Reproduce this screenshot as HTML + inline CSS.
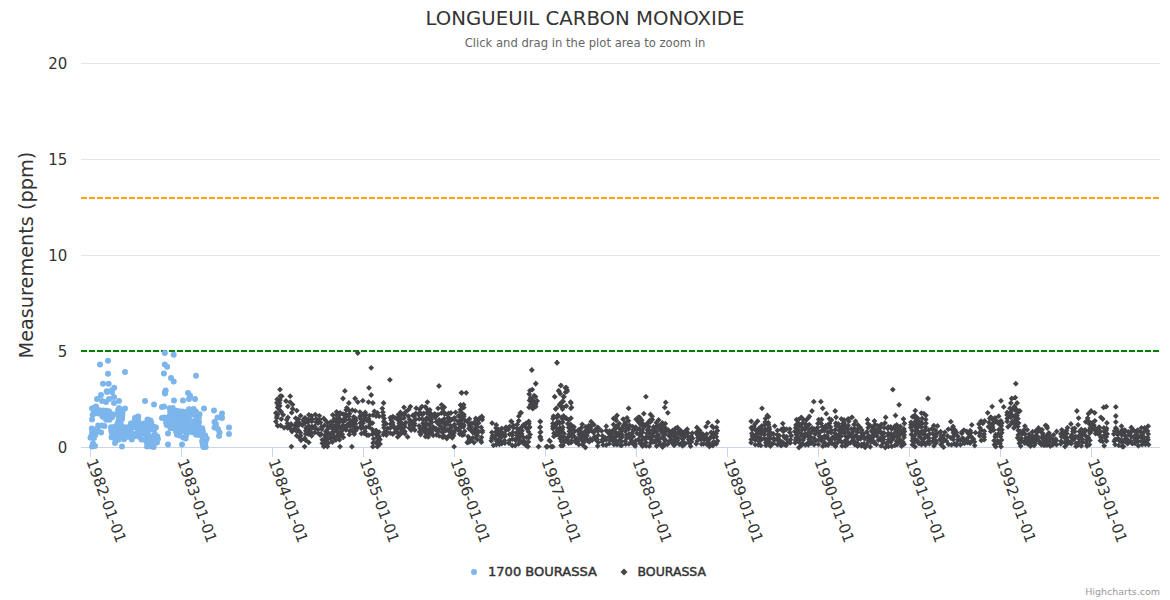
<!DOCTYPE html>
<html><head><meta charset="utf-8"><title>Longueuil Carbon Monoxide</title>
<style>html,body{margin:0;padding:0;background:#fff;width:1170px;height:600px;overflow:hidden}</style>
</head><body>
<div style="position:relative;width:1170px;height:600px">
<svg width="1170" height="600" viewBox="0 0 1170 600" style="position:absolute;left:0;top:0">
<rect x="0" y="0" width="1170" height="600" fill="#ffffff"/>
<path d="M 81 351.5 L 1160 351.5" stroke="#e6e6e6" stroke-width="1" fill="none"/>
<path d="M 81 255.5 L 1160 255.5" stroke="#e6e6e6" stroke-width="1" fill="none"/>
<path d="M 81 159.5 L 1160 159.5" stroke="#e6e6e6" stroke-width="1" fill="none"/>
<path d="M 81 63.5 L 1160 63.5" stroke="#e6e6e6" stroke-width="1" fill="none"/>
<path d="M 81 447.5 L 1160 447.5" stroke="#ccd6eb" stroke-width="1" fill="none"/>
<path d="M 90.5 447 L 90.5 457" stroke="#ccd6eb" stroke-width="1" fill="none"/>
<path d="M 181.5 447 L 181.5 457" stroke="#ccd6eb" stroke-width="1" fill="none"/>
<path d="M 272.5 447 L 272.5 457" stroke="#ccd6eb" stroke-width="1" fill="none"/>
<path d="M 363.5 447 L 363.5 457" stroke="#ccd6eb" stroke-width="1" fill="none"/>
<path d="M 454.5 447 L 454.5 457" stroke="#ccd6eb" stroke-width="1" fill="none"/>
<path d="M 545.5 447 L 545.5 457" stroke="#ccd6eb" stroke-width="1" fill="none"/>
<path d="M 636.5 447 L 636.5 457" stroke="#ccd6eb" stroke-width="1" fill="none"/>
<path d="M 727.5 447 L 727.5 457" stroke="#ccd6eb" stroke-width="1" fill="none"/>
<path d="M 818.5 447 L 818.5 457" stroke="#ccd6eb" stroke-width="1" fill="none"/>
<path d="M 909.5 447 L 909.5 457" stroke="#ccd6eb" stroke-width="1" fill="none"/>
<path d="M 1000.5 447 L 1000.5 457" stroke="#ccd6eb" stroke-width="1" fill="none"/>
<path d="M 1091.5 447 L 1091.5 457" stroke="#ccd6eb" stroke-width="1" fill="none"/>
<path d="M 81 198 L 1160 198" stroke="#FFA500" stroke-width="2" stroke-dasharray="6,2" fill="none"/>
<path d="M 81 351 L 1160 351" stroke="#008000" stroke-width="2" stroke-dasharray="6,2" fill="none"/>
<path d="M89.8 408.2a3 3 0 1 0 6 0a3 3 0 1 0 -6 0zM93.1 407.3a3 3 0 1 0 6 0a3 3 0 1 0 -6 0zM90.5 410.1a3 3 0 1 0 6 0a3 3 0 1 0 -6 0zM92.8 410.3a3 3 0 1 0 6 0a3 3 0 1 0 -6 0zM96.5 410.2a3 3 0 1 0 6 0a3 3 0 1 0 -6 0zM100.5 410.4a3 3 0 1 0 6 0a3 3 0 1 0 -6 0zM103.3 410.7a3 3 0 1 0 6 0a3 3 0 1 0 -6 0zM106.0 411.2a3 3 0 1 0 6 0a3 3 0 1 0 -6 0zM89.7 414.7a3 3 0 1 0 6 0a3 3 0 1 0 -6 0zM92.9 413.3a3 3 0 1 0 6 0a3 3 0 1 0 -6 0zM96.7 413.8a3 3 0 1 0 6 0a3 3 0 1 0 -6 0zM99.2 414.4a3 3 0 1 0 6 0a3 3 0 1 0 -6 0zM103.6 413.7a3 3 0 1 0 6 0a3 3 0 1 0 -6 0zM105.5 413.4a3 3 0 1 0 6 0a3 3 0 1 0 -6 0zM109.9 414.2a3 3 0 1 0 6 0a3 3 0 1 0 -6 0zM99.7 416.7a3 3 0 1 0 6 0a3 3 0 1 0 -6 0zM103.3 417.5a3 3 0 1 0 6 0a3 3 0 1 0 -6 0zM106.6 416.5a3 3 0 1 0 6 0a3 3 0 1 0 -6 0zM109.0 417.2a3 3 0 1 0 6 0a3 3 0 1 0 -6 0zM103.1 419.8a3 3 0 1 0 6 0a3 3 0 1 0 -6 0zM106.5 419.8a3 3 0 1 0 6 0a3 3 0 1 0 -6 0zM95.2 425.4a3 3 0 1 0 6 0a3 3 0 1 0 -6 0zM98.7 425.4a3 3 0 1 0 6 0a3 3 0 1 0 -6 0zM101.4 425.9a3 3 0 1 0 6 0a3 3 0 1 0 -6 0zM88.8 428.4a3 3 0 1 0 6 0a3 3 0 1 0 -6 0zM92.4 429.2a3 3 0 1 0 6 0a3 3 0 1 0 -6 0zM94.2 428.8a3 3 0 1 0 6 0a3 3 0 1 0 -6 0zM89.1 432.3a3 3 0 1 0 6 0a3 3 0 1 0 -6 0zM92.2 431.3a3 3 0 1 0 6 0a3 3 0 1 0 -6 0zM94.9 431.0a3 3 0 1 0 6 0a3 3 0 1 0 -6 0zM98.1 432.5a3 3 0 1 0 6 0a3 3 0 1 0 -6 0zM88.4 435.9a3 3 0 1 0 6 0a3 3 0 1 0 -6 0zM92.3 434.9a3 3 0 1 0 6 0a3 3 0 1 0 -6 0zM87.5 437.7a3 3 0 1 0 6 0a3 3 0 1 0 -6 0zM90.9 437.9a3 3 0 1 0 6 0a3 3 0 1 0 -6 0zM89.4 446.6a3 3 0 1 0 6 0a3 3 0 1 0 -6 0zM132.1 417.7a3 3 0 1 0 6 0a3 3 0 1 0 -6 0zM135.2 416.4a3 3 0 1 0 6 0a3 3 0 1 0 -6 0zM115.5 420.5a3 3 0 1 0 6 0a3 3 0 1 0 -6 0zM117.5 420.9a3 3 0 1 0 6 0a3 3 0 1 0 -6 0zM131.6 420.8a3 3 0 1 0 6 0a3 3 0 1 0 -6 0zM135.1 420.0a3 3 0 1 0 6 0a3 3 0 1 0 -6 0zM144.5 419.6a3 3 0 1 0 6 0a3 3 0 1 0 -6 0zM147.5 420.5a3 3 0 1 0 6 0a3 3 0 1 0 -6 0zM114.4 423.8a3 3 0 1 0 6 0a3 3 0 1 0 -6 0zM117.7 422.9a3 3 0 1 0 6 0a3 3 0 1 0 -6 0zM127.9 423.4a3 3 0 1 0 6 0a3 3 0 1 0 -6 0zM130.5 423.9a3 3 0 1 0 6 0a3 3 0 1 0 -6 0zM135.4 423.1a3 3 0 1 0 6 0a3 3 0 1 0 -6 0zM137.7 423.8a3 3 0 1 0 6 0a3 3 0 1 0 -6 0zM141.1 423.4a3 3 0 1 0 6 0a3 3 0 1 0 -6 0zM145.4 423.3a3 3 0 1 0 6 0a3 3 0 1 0 -6 0zM148.4 422.9a3 3 0 1 0 6 0a3 3 0 1 0 -6 0zM108.0 427.3a3 3 0 1 0 6 0a3 3 0 1 0 -6 0zM111.2 426.9a3 3 0 1 0 6 0a3 3 0 1 0 -6 0zM114.7 426.8a3 3 0 1 0 6 0a3 3 0 1 0 -6 0zM118.1 425.8a3 3 0 1 0 6 0a3 3 0 1 0 -6 0zM121.1 427.3a3 3 0 1 0 6 0a3 3 0 1 0 -6 0zM125.0 426.9a3 3 0 1 0 6 0a3 3 0 1 0 -6 0zM128.6 426.3a3 3 0 1 0 6 0a3 3 0 1 0 -6 0zM131.9 427.0a3 3 0 1 0 6 0a3 3 0 1 0 -6 0zM134.6 427.0a3 3 0 1 0 6 0a3 3 0 1 0 -6 0zM137.4 426.0a3 3 0 1 0 6 0a3 3 0 1 0 -6 0zM141.3 426.1a3 3 0 1 0 6 0a3 3 0 1 0 -6 0zM145.3 426.5a3 3 0 1 0 6 0a3 3 0 1 0 -6 0zM147.3 426.8a3 3 0 1 0 6 0a3 3 0 1 0 -6 0zM151.2 426.8a3 3 0 1 0 6 0a3 3 0 1 0 -6 0zM108.3 430.6a3 3 0 1 0 6 0a3 3 0 1 0 -6 0zM114.4 429.2a3 3 0 1 0 6 0a3 3 0 1 0 -6 0zM118.3 430.1a3 3 0 1 0 6 0a3 3 0 1 0 -6 0zM122.0 429.7a3 3 0 1 0 6 0a3 3 0 1 0 -6 0zM124.3 430.1a3 3 0 1 0 6 0a3 3 0 1 0 -6 0zM127.9 430.0a3 3 0 1 0 6 0a3 3 0 1 0 -6 0zM135.0 429.4a3 3 0 1 0 6 0a3 3 0 1 0 -6 0zM138.4 429.3a3 3 0 1 0 6 0a3 3 0 1 0 -6 0zM142.0 429.2a3 3 0 1 0 6 0a3 3 0 1 0 -6 0zM143.9 429.6a3 3 0 1 0 6 0a3 3 0 1 0 -6 0zM147.9 429.6a3 3 0 1 0 6 0a3 3 0 1 0 -6 0zM151.1 429.8a3 3 0 1 0 6 0a3 3 0 1 0 -6 0zM108.7 432.6a3 3 0 1 0 6 0a3 3 0 1 0 -6 0zM110.7 433.0a3 3 0 1 0 6 0a3 3 0 1 0 -6 0zM115.3 433.8a3 3 0 1 0 6 0a3 3 0 1 0 -6 0zM117.7 432.5a3 3 0 1 0 6 0a3 3 0 1 0 -6 0zM121.3 434.1a3 3 0 1 0 6 0a3 3 0 1 0 -6 0zM124.5 432.5a3 3 0 1 0 6 0a3 3 0 1 0 -6 0zM128.1 433.2a3 3 0 1 0 6 0a3 3 0 1 0 -6 0zM131.9 433.9a3 3 0 1 0 6 0a3 3 0 1 0 -6 0zM134.1 433.1a3 3 0 1 0 6 0a3 3 0 1 0 -6 0zM137.8 433.6a3 3 0 1 0 6 0a3 3 0 1 0 -6 0zM141.2 433.4a3 3 0 1 0 6 0a3 3 0 1 0 -6 0zM144.7 434.0a3 3 0 1 0 6 0a3 3 0 1 0 -6 0zM151.9 434.2a3 3 0 1 0 6 0a3 3 0 1 0 -6 0zM108.5 437.2a3 3 0 1 0 6 0a3 3 0 1 0 -6 0zM110.9 436.2a3 3 0 1 0 6 0a3 3 0 1 0 -6 0zM115.3 436.1a3 3 0 1 0 6 0a3 3 0 1 0 -6 0zM118.5 436.9a3 3 0 1 0 6 0a3 3 0 1 0 -6 0zM124.5 436.8a3 3 0 1 0 6 0a3 3 0 1 0 -6 0zM127.4 436.9a3 3 0 1 0 6 0a3 3 0 1 0 -6 0zM131.9 436.3a3 3 0 1 0 6 0a3 3 0 1 0 -6 0zM135.3 435.9a3 3 0 1 0 6 0a3 3 0 1 0 -6 0zM137.2 437.4a3 3 0 1 0 6 0a3 3 0 1 0 -6 0zM144.4 436.0a3 3 0 1 0 6 0a3 3 0 1 0 -6 0zM147.9 436.4a3 3 0 1 0 6 0a3 3 0 1 0 -6 0zM151.2 436.2a3 3 0 1 0 6 0a3 3 0 1 0 -6 0zM154.3 436.5a3 3 0 1 0 6 0a3 3 0 1 0 -6 0zM112.4 439.6a3 3 0 1 0 6 0a3 3 0 1 0 -6 0zM115.5 439.7a3 3 0 1 0 6 0a3 3 0 1 0 -6 0zM121.1 439.2a3 3 0 1 0 6 0a3 3 0 1 0 -6 0zM128.8 439.4a3 3 0 1 0 6 0a3 3 0 1 0 -6 0zM138.5 439.5a3 3 0 1 0 6 0a3 3 0 1 0 -6 0zM141.3 439.8a3 3 0 1 0 6 0a3 3 0 1 0 -6 0zM145.3 439.4a3 3 0 1 0 6 0a3 3 0 1 0 -6 0zM147.7 439.1a3 3 0 1 0 6 0a3 3 0 1 0 -6 0zM151.9 439.5a3 3 0 1 0 6 0a3 3 0 1 0 -6 0zM154.9 439.1a3 3 0 1 0 6 0a3 3 0 1 0 -6 0zM143.9 442.8a3 3 0 1 0 6 0a3 3 0 1 0 -6 0zM147.0 443.0a3 3 0 1 0 6 0a3 3 0 1 0 -6 0zM151.2 442.3a3 3 0 1 0 6 0a3 3 0 1 0 -6 0zM154.0 442.4a3 3 0 1 0 6 0a3 3 0 1 0 -6 0zM144.1 446.5a3 3 0 1 0 6 0a3 3 0 1 0 -6 0zM148.5 446.4a3 3 0 1 0 6 0a3 3 0 1 0 -6 0zM150.7 447.0a3 3 0 1 0 6 0a3 3 0 1 0 -6 0zM115.1 410.1a3 3 0 1 0 6 0a3 3 0 1 0 -6 0zM119.3 410.0a3 3 0 1 0 6 0a3 3 0 1 0 -6 0zM115.0 412.9a3 3 0 1 0 6 0a3 3 0 1 0 -6 0zM119.5 412.2a3 3 0 1 0 6 0a3 3 0 1 0 -6 0zM115.2 415.8a3 3 0 1 0 6 0a3 3 0 1 0 -6 0zM119.3 415.5a3 3 0 1 0 6 0a3 3 0 1 0 -6 0zM116.1 418.5a3 3 0 1 0 6 0a3 3 0 1 0 -6 0zM119.1 418.7a3 3 0 1 0 6 0a3 3 0 1 0 -6 0zM89.0 446.5a3 3 0 1 0 6 0a3 3 0 1 0 -6 0zM92.0 446.0a3 3 0 1 0 6 0a3 3 0 1 0 -6 0zM90.0 443.5a3 3 0 1 0 6 0a3 3 0 1 0 -6 0zM119.0 446.5a3 3 0 1 0 6 0a3 3 0 1 0 -6 0zM112.0 443.0a3 3 0 1 0 6 0a3 3 0 1 0 -6 0zM94.0 399.0a3 3 0 1 0 6 0a3 3 0 1 0 -6 0zM98.0 395.0a3 3 0 1 0 6 0a3 3 0 1 0 -6 0zM99.0 401.0a3 3 0 1 0 6 0a3 3 0 1 0 -6 0zM103.0 402.0a3 3 0 1 0 6 0a3 3 0 1 0 -6 0zM106.0 399.0a3 3 0 1 0 6 0a3 3 0 1 0 -6 0zM111.0 397.0a3 3 0 1 0 6 0a3 3 0 1 0 -6 0zM111.0 403.0a3 3 0 1 0 6 0a3 3 0 1 0 -6 0zM116.0 401.0a3 3 0 1 0 6 0a3 3 0 1 0 -6 0zM104.0 392.0a3 3 0 1 0 6 0a3 3 0 1 0 -6 0zM109.0 392.0a3 3 0 1 0 6 0a3 3 0 1 0 -6 0zM89.0 419.5a3 3 0 1 0 6 0a3 3 0 1 0 -6 0zM142.0 401.0a3 3 0 1 0 6 0a3 3 0 1 0 -6 0zM151.0 404.5a3 3 0 1 0 6 0a3 3 0 1 0 -6 0zM159.0 407.0a3 3 0 1 0 6 0a3 3 0 1 0 -6 0zM159.0 418.0a3 3 0 1 0 6 0a3 3 0 1 0 -6 0zM153.0 427.5a3 3 0 1 0 6 0a3 3 0 1 0 -6 0zM116.0 408.0a3 3 0 1 0 6 0a3 3 0 1 0 -6 0zM122.0 408.5a3 3 0 1 0 6 0a3 3 0 1 0 -6 0zM89.0 408.5a3 3 0 1 0 6 0a3 3 0 1 0 -6 0zM93.0 406.5a3 3 0 1 0 6 0a3 3 0 1 0 -6 0zM166.6 408.3a3 3 0 1 0 6 0a3 3 0 1 0 -6 0zM169.7 408.1a3 3 0 1 0 6 0a3 3 0 1 0 -6 0zM186.0 409.2a3 3 0 1 0 6 0a3 3 0 1 0 -6 0zM190.6 409.1a3 3 0 1 0 6 0a3 3 0 1 0 -6 0zM167.2 411.8a3 3 0 1 0 6 0a3 3 0 1 0 -6 0zM170.8 411.9a3 3 0 1 0 6 0a3 3 0 1 0 -6 0zM173.3 410.8a3 3 0 1 0 6 0a3 3 0 1 0 -6 0zM175.9 411.2a3 3 0 1 0 6 0a3 3 0 1 0 -6 0zM179.2 411.5a3 3 0 1 0 6 0a3 3 0 1 0 -6 0zM182.4 411.9a3 3 0 1 0 6 0a3 3 0 1 0 -6 0zM186.4 411.9a3 3 0 1 0 6 0a3 3 0 1 0 -6 0zM188.9 411.0a3 3 0 1 0 6 0a3 3 0 1 0 -6 0zM192.8 411.5a3 3 0 1 0 6 0a3 3 0 1 0 -6 0zM167.0 415.3a3 3 0 1 0 6 0a3 3 0 1 0 -6 0zM169.7 415.0a3 3 0 1 0 6 0a3 3 0 1 0 -6 0zM172.6 415.7a3 3 0 1 0 6 0a3 3 0 1 0 -6 0zM177.0 415.8a3 3 0 1 0 6 0a3 3 0 1 0 -6 0zM180.4 414.4a3 3 0 1 0 6 0a3 3 0 1 0 -6 0zM183.5 415.7a3 3 0 1 0 6 0a3 3 0 1 0 -6 0zM187.1 414.5a3 3 0 1 0 6 0a3 3 0 1 0 -6 0zM189.7 414.6a3 3 0 1 0 6 0a3 3 0 1 0 -6 0zM193.5 415.5a3 3 0 1 0 6 0a3 3 0 1 0 -6 0zM196.6 414.3a3 3 0 1 0 6 0a3 3 0 1 0 -6 0zM163.4 417.7a3 3 0 1 0 6 0a3 3 0 1 0 -6 0zM165.9 417.6a3 3 0 1 0 6 0a3 3 0 1 0 -6 0zM169.4 418.8a3 3 0 1 0 6 0a3 3 0 1 0 -6 0zM173.8 417.8a3 3 0 1 0 6 0a3 3 0 1 0 -6 0zM176.3 417.3a3 3 0 1 0 6 0a3 3 0 1 0 -6 0zM179.6 417.3a3 3 0 1 0 6 0a3 3 0 1 0 -6 0zM182.9 417.3a3 3 0 1 0 6 0a3 3 0 1 0 -6 0zM185.9 417.8a3 3 0 1 0 6 0a3 3 0 1 0 -6 0zM193.4 418.3a3 3 0 1 0 6 0a3 3 0 1 0 -6 0zM195.8 417.8a3 3 0 1 0 6 0a3 3 0 1 0 -6 0zM163.1 422.4a3 3 0 1 0 6 0a3 3 0 1 0 -6 0zM165.9 422.1a3 3 0 1 0 6 0a3 3 0 1 0 -6 0zM173.8 421.9a3 3 0 1 0 6 0a3 3 0 1 0 -6 0zM177.1 420.9a3 3 0 1 0 6 0a3 3 0 1 0 -6 0zM179.4 421.3a3 3 0 1 0 6 0a3 3 0 1 0 -6 0zM183.5 421.6a3 3 0 1 0 6 0a3 3 0 1 0 -6 0zM186.6 421.7a3 3 0 1 0 6 0a3 3 0 1 0 -6 0zM190.3 421.6a3 3 0 1 0 6 0a3 3 0 1 0 -6 0zM193.8 421.3a3 3 0 1 0 6 0a3 3 0 1 0 -6 0zM196.0 421.9a3 3 0 1 0 6 0a3 3 0 1 0 -6 0zM163.6 425.1a3 3 0 1 0 6 0a3 3 0 1 0 -6 0zM167.1 424.7a3 3 0 1 0 6 0a3 3 0 1 0 -6 0zM170.4 424.5a3 3 0 1 0 6 0a3 3 0 1 0 -6 0zM173.4 425.4a3 3 0 1 0 6 0a3 3 0 1 0 -6 0zM176.8 425.5a3 3 0 1 0 6 0a3 3 0 1 0 -6 0zM179.1 424.8a3 3 0 1 0 6 0a3 3 0 1 0 -6 0zM183.9 425.7a3 3 0 1 0 6 0a3 3 0 1 0 -6 0zM186.9 425.0a3 3 0 1 0 6 0a3 3 0 1 0 -6 0zM190.5 424.2a3 3 0 1 0 6 0a3 3 0 1 0 -6 0zM195.4 424.8a3 3 0 1 0 6 0a3 3 0 1 0 -6 0zM167.4 427.9a3 3 0 1 0 6 0a3 3 0 1 0 -6 0zM170.4 428.3a3 3 0 1 0 6 0a3 3 0 1 0 -6 0zM172.8 428.1a3 3 0 1 0 6 0a3 3 0 1 0 -6 0zM176.8 428.1a3 3 0 1 0 6 0a3 3 0 1 0 -6 0zM180.0 429.0a3 3 0 1 0 6 0a3 3 0 1 0 -6 0zM182.8 427.2a3 3 0 1 0 6 0a3 3 0 1 0 -6 0zM185.6 428.0a3 3 0 1 0 6 0a3 3 0 1 0 -6 0zM190.1 428.9a3 3 0 1 0 6 0a3 3 0 1 0 -6 0zM193.2 428.2a3 3 0 1 0 6 0a3 3 0 1 0 -6 0zM199.2 428.3a3 3 0 1 0 6 0a3 3 0 1 0 -6 0zM173.0 431.4a3 3 0 1 0 6 0a3 3 0 1 0 -6 0zM175.8 431.8a3 3 0 1 0 6 0a3 3 0 1 0 -6 0zM180.0 430.7a3 3 0 1 0 6 0a3 3 0 1 0 -6 0zM183.8 432.3a3 3 0 1 0 6 0a3 3 0 1 0 -6 0zM185.6 432.1a3 3 0 1 0 6 0a3 3 0 1 0 -6 0zM189.3 432.2a3 3 0 1 0 6 0a3 3 0 1 0 -6 0zM193.7 430.9a3 3 0 1 0 6 0a3 3 0 1 0 -6 0zM196.1 431.0a3 3 0 1 0 6 0a3 3 0 1 0 -6 0zM199.8 431.1a3 3 0 1 0 6 0a3 3 0 1 0 -6 0zM174.0 434.8a3 3 0 1 0 6 0a3 3 0 1 0 -6 0zM176.6 435.6a3 3 0 1 0 6 0a3 3 0 1 0 -6 0zM183.2 435.1a3 3 0 1 0 6 0a3 3 0 1 0 -6 0zM193.2 434.7a3 3 0 1 0 6 0a3 3 0 1 0 -6 0zM196.4 435.1a3 3 0 1 0 6 0a3 3 0 1 0 -6 0zM198.7 434.4a3 3 0 1 0 6 0a3 3 0 1 0 -6 0zM202.1 435.2a3 3 0 1 0 6 0a3 3 0 1 0 -6 0zM180.3 437.5a3 3 0 1 0 6 0a3 3 0 1 0 -6 0zM182.6 438.4a3 3 0 1 0 6 0a3 3 0 1 0 -6 0zM199.8 437.7a3 3 0 1 0 6 0a3 3 0 1 0 -6 0zM203.7 438.5a3 3 0 1 0 6 0a3 3 0 1 0 -6 0zM199.1 441.3a3 3 0 1 0 6 0a3 3 0 1 0 -6 0zM202.6 441.8a3 3 0 1 0 6 0a3 3 0 1 0 -6 0zM199.7 445.1a3 3 0 1 0 6 0a3 3 0 1 0 -6 0zM202.0 444.2a3 3 0 1 0 6 0a3 3 0 1 0 -6 0zM200.4 447.0a3 3 0 1 0 6 0a3 3 0 1 0 -6 0zM202.7 447.0a3 3 0 1 0 6 0a3 3 0 1 0 -6 0zM162.0 393.5a3 3 0 1 0 6 0a3 3 0 1 0 -6 0zM171.0 400.5a3 3 0 1 0 6 0a3 3 0 1 0 -6 0zM180.0 400.5a3 3 0 1 0 6 0a3 3 0 1 0 -6 0zM185.0 393.0a3 3 0 1 0 6 0a3 3 0 1 0 -6 0zM187.0 395.5a3 3 0 1 0 6 0a3 3 0 1 0 -6 0zM186.0 399.0a3 3 0 1 0 6 0a3 3 0 1 0 -6 0zM192.0 399.0a3 3 0 1 0 6 0a3 3 0 1 0 -6 0zM161.0 406.5a3 3 0 1 0 6 0a3 3 0 1 0 -6 0zM201.0 408.5a3 3 0 1 0 6 0a3 3 0 1 0 -6 0zM161.0 417.5a3 3 0 1 0 6 0a3 3 0 1 0 -6 0zM165.0 433.5a3 3 0 1 0 6 0a3 3 0 1 0 -6 0zM165.0 444.5a3 3 0 1 0 6 0a3 3 0 1 0 -6 0zM179.0 444.5a3 3 0 1 0 6 0a3 3 0 1 0 -6 0zM211.0 410.5a3 3 0 1 0 6 0a3 3 0 1 0 -6 0zM219.0 413.5a3 3 0 1 0 6 0a3 3 0 1 0 -6 0zM214.5 417.5a3 3 0 1 0 6 0a3 3 0 1 0 -6 0zM219.0 418.0a3 3 0 1 0 6 0a3 3 0 1 0 -6 0zM211.5 422.0a3 3 0 1 0 6 0a3 3 0 1 0 -6 0zM213.0 424.0a3 3 0 1 0 6 0a3 3 0 1 0 -6 0zM211.5 427.5a3 3 0 1 0 6 0a3 3 0 1 0 -6 0zM215.0 429.0a3 3 0 1 0 6 0a3 3 0 1 0 -6 0zM216.5 432.5a3 3 0 1 0 6 0a3 3 0 1 0 -6 0zM216.0 436.0a3 3 0 1 0 6 0a3 3 0 1 0 -6 0zM226.0 427.5a3 3 0 1 0 6 0a3 3 0 1 0 -6 0zM226.0 434.0a3 3 0 1 0 6 0a3 3 0 1 0 -6 0zM97.0 364.5a3 3 0 1 0 6 0a3 3 0 1 0 -6 0zM105.0 360.7a3 3 0 1 0 6 0a3 3 0 1 0 -6 0zM105.0 373.7a3 3 0 1 0 6 0a3 3 0 1 0 -6 0zM122.0 372.0a3 3 0 1 0 6 0a3 3 0 1 0 -6 0zM100.0 383.7a3 3 0 1 0 6 0a3 3 0 1 0 -6 0zM105.7 383.7a3 3 0 1 0 6 0a3 3 0 1 0 -6 0zM111.2 387.8a3 3 0 1 0 6 0a3 3 0 1 0 -6 0zM103.7 391.2a3 3 0 1 0 6 0a3 3 0 1 0 -6 0zM108.7 390.3a3 3 0 1 0 6 0a3 3 0 1 0 -6 0zM161.8 353.0a3 3 0 1 0 6 0a3 3 0 1 0 -6 0zM170.7 354.8a3 3 0 1 0 6 0a3 3 0 1 0 -6 0zM161.8 364.6a3 3 0 1 0 6 0a3 3 0 1 0 -6 0zM164.1 366.7a3 3 0 1 0 6 0a3 3 0 1 0 -6 0zM160.9 373.5a3 3 0 1 0 6 0a3 3 0 1 0 -6 0zM168.0 378.0a3 3 0 1 0 6 0a3 3 0 1 0 -6 0zM170.7 381.5a3 3 0 1 0 6 0a3 3 0 1 0 -6 0zM193.0 375.7a3 3 0 1 0 6 0a3 3 0 1 0 -6 0zM162.7 390.5a3 3 0 1 0 6 0a3 3 0 1 0 -6 0zM161.8 392.2a3 3 0 1 0 6 0a3 3 0 1 0 -6 0z" fill="#7cb5ec"/>
<path d="M346.8 404.9l2.9 2.9l-2.9 2.9l-2.9 -2.9zM346.2 407.0l2.9 2.9l-2.9 2.9l-2.9 -2.9zM345.4 411.2l2.9 2.9l-2.9 2.9l-2.9 -2.9zM345.5 414.5l2.9 2.9l-2.9 2.9l-2.9 -2.9zM345.6 417.3l2.9 2.9l-2.9 2.9l-2.9 -2.9zM347.6 421.5l2.9 2.9l-2.9 2.9l-2.9 -2.9zM347.6 423.5l2.9 2.9l-2.9 2.9l-2.9 -2.9zM346.0 427.0l2.9 2.9l-2.9 2.9l-2.9 -2.9zM349.0 407.5l2.9 2.9l-2.9 2.9l-2.9 -2.9zM349.5 410.8l2.9 2.9l-2.9 2.9l-2.9 -2.9zM348.7 413.2l2.9 2.9l-2.9 2.9l-2.9 -2.9zM349.6 416.8l2.9 2.9l-2.9 2.9l-2.9 -2.9zM349.7 420.1l2.9 2.9l-2.9 2.9l-2.9 -2.9zM350.3 423.2l2.9 2.9l-2.9 2.9l-2.9 -2.9zM349.8 428.0l2.9 2.9l-2.9 2.9l-2.9 -2.9zM349.3 431.6l2.9 2.9l-2.9 2.9l-2.9 -2.9zM352.3 407.3l2.9 2.9l-2.9 2.9l-2.9 -2.9zM353.7 414.1l2.9 2.9l-2.9 2.9l-2.9 -2.9zM352.6 417.7l2.9 2.9l-2.9 2.9l-2.9 -2.9zM353.3 420.4l2.9 2.9l-2.9 2.9l-2.9 -2.9zM354.2 423.8l2.9 2.9l-2.9 2.9l-2.9 -2.9zM352.0 427.6l2.9 2.9l-2.9 2.9l-2.9 -2.9zM354.3 431.2l2.9 2.9l-2.9 2.9l-2.9 -2.9zM355.2 407.9l2.9 2.9l-2.9 2.9l-2.9 -2.9zM355.3 415.2l2.9 2.9l-2.9 2.9l-2.9 -2.9zM355.8 417.6l2.9 2.9l-2.9 2.9l-2.9 -2.9zM355.4 421.0l2.9 2.9l-2.9 2.9l-2.9 -2.9zM357.3 425.2l2.9 2.9l-2.9 2.9l-2.9 -2.9zM355.9 427.5l2.9 2.9l-2.9 2.9l-2.9 -2.9zM359.9 409.2l2.9 2.9l-2.9 2.9l-2.9 -2.9zM360.1 413.3l2.9 2.9l-2.9 2.9l-2.9 -2.9zM360.2 415.4l2.9 2.9l-2.9 2.9l-2.9 -2.9zM360.4 420.1l2.9 2.9l-2.9 2.9l-2.9 -2.9zM361.2 423.2l2.9 2.9l-2.9 2.9l-2.9 -2.9zM361.2 425.4l2.9 2.9l-2.9 2.9l-2.9 -2.9zM361.4 430.7l2.9 2.9l-2.9 2.9l-2.9 -2.9zM363.1 411.9l2.9 2.9l-2.9 2.9l-2.9 -2.9zM363.4 417.4l2.9 2.9l-2.9 2.9l-2.9 -2.9zM363.0 420.3l2.9 2.9l-2.9 2.9l-2.9 -2.9zM363.1 424.4l2.9 2.9l-2.9 2.9l-2.9 -2.9zM364.3 430.5l2.9 2.9l-2.9 2.9l-2.9 -2.9zM365.2 409.6l2.9 2.9l-2.9 2.9l-2.9 -2.9zM366.0 412.0l2.9 2.9l-2.9 2.9l-2.9 -2.9zM365.2 414.9l2.9 2.9l-2.9 2.9l-2.9 -2.9zM366.9 417.8l2.9 2.9l-2.9 2.9l-2.9 -2.9zM366.2 424.4l2.9 2.9l-2.9 2.9l-2.9 -2.9zM365.0 428.6l2.9 2.9l-2.9 2.9l-2.9 -2.9zM367.0 432.3l2.9 2.9l-2.9 2.9l-2.9 -2.9zM369.5 412.7l2.9 2.9l-2.9 2.9l-2.9 -2.9zM368.7 416.1l2.9 2.9l-2.9 2.9l-2.9 -2.9zM370.3 419.4l2.9 2.9l-2.9 2.9l-2.9 -2.9zM370.0 421.3l2.9 2.9l-2.9 2.9l-2.9 -2.9zM369.1 424.1l2.9 2.9l-2.9 2.9l-2.9 -2.9zM368.8 432.3l2.9 2.9l-2.9 2.9l-2.9 -2.9zM373.0 412.3l2.9 2.9l-2.9 2.9l-2.9 -2.9zM374.4 408.4l2.9 2.9l-2.9 2.9l-2.9 -2.9zM376.1 413.2l2.9 2.9l-2.9 2.9l-2.9 -2.9zM377.4 409.9l2.9 2.9l-2.9 2.9l-2.9 -2.9zM379.1 413.4l2.9 2.9l-2.9 2.9l-2.9 -2.9zM382.3 405.5l2.9 2.9l-2.9 2.9l-2.9 -2.9zM382.9 409.3l2.9 2.9l-2.9 2.9l-2.9 -2.9zM382.8 413.4l2.9 2.9l-2.9 2.9l-2.9 -2.9zM372.5 420.2l2.9 2.9l-2.9 2.9l-2.9 -2.9zM372.4 426.7l2.9 2.9l-2.9 2.9l-2.9 -2.9zM373.6 428.8l2.9 2.9l-2.9 2.9l-2.9 -2.9zM372.4 431.3l2.9 2.9l-2.9 2.9l-2.9 -2.9zM373.6 435.9l2.9 2.9l-2.9 2.9l-2.9 -2.9zM373.1 440.0l2.9 2.9l-2.9 2.9l-2.9 -2.9zM376.1 427.6l2.9 2.9l-2.9 2.9l-2.9 -2.9zM376.0 431.4l2.9 2.9l-2.9 2.9l-2.9 -2.9zM377.5 434.5l2.9 2.9l-2.9 2.9l-2.9 -2.9zM376.7 439.1l2.9 2.9l-2.9 2.9l-2.9 -2.9zM377.5 441.5l2.9 2.9l-2.9 2.9l-2.9 -2.9zM379.1 429.3l2.9 2.9l-2.9 2.9l-2.9 -2.9zM379.1 433.7l2.9 2.9l-2.9 2.9l-2.9 -2.9zM380.0 436.7l2.9 2.9l-2.9 2.9l-2.9 -2.9zM380.0 441.1l2.9 2.9l-2.9 2.9l-2.9 -2.9zM383.4 412.4l2.9 2.9l-2.9 2.9l-2.9 -2.9zM384.1 415.7l2.9 2.9l-2.9 2.9l-2.9 -2.9zM383.8 418.6l2.9 2.9l-2.9 2.9l-2.9 -2.9zM384.0 422.1l2.9 2.9l-2.9 2.9l-2.9 -2.9zM384.0 424.9l2.9 2.9l-2.9 2.9l-2.9 -2.9zM384.4 429.2l2.9 2.9l-2.9 2.9l-2.9 -2.9zM383.4 431.7l2.9 2.9l-2.9 2.9l-2.9 -2.9zM386.2 420.8l2.9 2.9l-2.9 2.9l-2.9 -2.9zM387.7 425.4l2.9 2.9l-2.9 2.9l-2.9 -2.9zM386.4 428.5l2.9 2.9l-2.9 2.9l-2.9 -2.9zM386.4 432.2l2.9 2.9l-2.9 2.9l-2.9 -2.9zM390.3 414.8l2.9 2.9l-2.9 2.9l-2.9 -2.9zM391.3 417.4l2.9 2.9l-2.9 2.9l-2.9 -2.9zM390.6 421.1l2.9 2.9l-2.9 2.9l-2.9 -2.9zM390.1 425.3l2.9 2.9l-2.9 2.9l-2.9 -2.9zM390.4 430.2l2.9 2.9l-2.9 2.9l-2.9 -2.9zM392.8 413.7l2.9 2.9l-2.9 2.9l-2.9 -2.9zM395.0 414.9l2.9 2.9l-2.9 2.9l-2.9 -2.9zM392.7 419.8l2.9 2.9l-2.9 2.9l-2.9 -2.9zM393.0 422.3l2.9 2.9l-2.9 2.9l-2.9 -2.9zM394.6 425.2l2.9 2.9l-2.9 2.9l-2.9 -2.9zM394.9 429.2l2.9 2.9l-2.9 2.9l-2.9 -2.9zM392.9 431.3l2.9 2.9l-2.9 2.9l-2.9 -2.9zM398.5 411.6l2.9 2.9l-2.9 2.9l-2.9 -2.9zM399.1 413.2l2.9 2.9l-2.9 2.9l-2.9 -2.9zM398.1 417.1l2.9 2.9l-2.9 2.9l-2.9 -2.9zM399.2 420.3l2.9 2.9l-2.9 2.9l-2.9 -2.9zM398.3 423.5l2.9 2.9l-2.9 2.9l-2.9 -2.9zM397.4 426.3l2.9 2.9l-2.9 2.9l-2.9 -2.9zM397.8 430.2l2.9 2.9l-2.9 2.9l-2.9 -2.9zM397.7 434.0l2.9 2.9l-2.9 2.9l-2.9 -2.9zM400.4 409.6l2.9 2.9l-2.9 2.9l-2.9 -2.9zM400.8 412.3l2.9 2.9l-2.9 2.9l-2.9 -2.9zM400.6 416.4l2.9 2.9l-2.9 2.9l-2.9 -2.9zM401.5 419.8l2.9 2.9l-2.9 2.9l-2.9 -2.9zM401.5 422.7l2.9 2.9l-2.9 2.9l-2.9 -2.9zM401.1 426.4l2.9 2.9l-2.9 2.9l-2.9 -2.9zM401.9 428.6l2.9 2.9l-2.9 2.9l-2.9 -2.9zM400.5 431.3l2.9 2.9l-2.9 2.9l-2.9 -2.9zM404.0 404.4l2.9 2.9l-2.9 2.9l-2.9 -2.9zM405.7 409.1l2.9 2.9l-2.9 2.9l-2.9 -2.9zM404.2 411.5l2.9 2.9l-2.9 2.9l-2.9 -2.9zM404.0 415.2l2.9 2.9l-2.9 2.9l-2.9 -2.9zM405.9 419.7l2.9 2.9l-2.9 2.9l-2.9 -2.9zM404.2 423.0l2.9 2.9l-2.9 2.9l-2.9 -2.9zM404.5 424.0l2.9 2.9l-2.9 2.9l-2.9 -2.9zM404.8 428.5l2.9 2.9l-2.9 2.9l-2.9 -2.9zM404.8 430.6l2.9 2.9l-2.9 2.9l-2.9 -2.9zM408.7 406.5l2.9 2.9l-2.9 2.9l-2.9 -2.9zM408.3 413.2l2.9 2.9l-2.9 2.9l-2.9 -2.9zM409.5 416.6l2.9 2.9l-2.9 2.9l-2.9 -2.9zM409.8 419.3l2.9 2.9l-2.9 2.9l-2.9 -2.9zM410.1 422.0l2.9 2.9l-2.9 2.9l-2.9 -2.9zM409.3 425.1l2.9 2.9l-2.9 2.9l-2.9 -2.9zM412.8 412.5l2.9 2.9l-2.9 2.9l-2.9 -2.9zM412.2 419.1l2.9 2.9l-2.9 2.9l-2.9 -2.9zM413.0 421.8l2.9 2.9l-2.9 2.9l-2.9 -2.9zM412.7 425.4l2.9 2.9l-2.9 2.9l-2.9 -2.9zM411.1 427.3l2.9 2.9l-2.9 2.9l-2.9 -2.9zM416.2 405.3l2.9 2.9l-2.9 2.9l-2.9 -2.9zM415.8 410.4l2.9 2.9l-2.9 2.9l-2.9 -2.9zM414.3 414.0l2.9 2.9l-2.9 2.9l-2.9 -2.9zM415.5 416.7l2.9 2.9l-2.9 2.9l-2.9 -2.9zM414.5 420.5l2.9 2.9l-2.9 2.9l-2.9 -2.9zM414.5 422.6l2.9 2.9l-2.9 2.9l-2.9 -2.9zM414.8 427.1l2.9 2.9l-2.9 2.9l-2.9 -2.9zM419.6 406.4l2.9 2.9l-2.9 2.9l-2.9 -2.9zM419.9 409.6l2.9 2.9l-2.9 2.9l-2.9 -2.9zM418.8 412.0l2.9 2.9l-2.9 2.9l-2.9 -2.9zM419.2 416.0l2.9 2.9l-2.9 2.9l-2.9 -2.9zM419.1 422.9l2.9 2.9l-2.9 2.9l-2.9 -2.9zM420.1 425.3l2.9 2.9l-2.9 2.9l-2.9 -2.9zM419.5 429.0l2.9 2.9l-2.9 2.9l-2.9 -2.9zM420.6 431.7l2.9 2.9l-2.9 2.9l-2.9 -2.9zM423.7 410.4l2.9 2.9l-2.9 2.9l-2.9 -2.9zM422.4 411.9l2.9 2.9l-2.9 2.9l-2.9 -2.9zM422.2 416.1l2.9 2.9l-2.9 2.9l-2.9 -2.9zM423.0 420.3l2.9 2.9l-2.9 2.9l-2.9 -2.9zM423.7 422.5l2.9 2.9l-2.9 2.9l-2.9 -2.9zM423.4 425.1l2.9 2.9l-2.9 2.9l-2.9 -2.9zM422.9 427.9l2.9 2.9l-2.9 2.9l-2.9 -2.9zM425.4 403.9l2.9 2.9l-2.9 2.9l-2.9 -2.9zM427.1 406.3l2.9 2.9l-2.9 2.9l-2.9 -2.9zM427.0 409.9l2.9 2.9l-2.9 2.9l-2.9 -2.9zM426.7 415.1l2.9 2.9l-2.9 2.9l-2.9 -2.9zM425.9 417.2l2.9 2.9l-2.9 2.9l-2.9 -2.9zM426.4 420.4l2.9 2.9l-2.9 2.9l-2.9 -2.9zM425.7 422.9l2.9 2.9l-2.9 2.9l-2.9 -2.9zM427.0 426.8l2.9 2.9l-2.9 2.9l-2.9 -2.9zM425.6 430.1l2.9 2.9l-2.9 2.9l-2.9 -2.9zM425.5 433.6l2.9 2.9l-2.9 2.9l-2.9 -2.9zM429.8 406.9l2.9 2.9l-2.9 2.9l-2.9 -2.9zM429.7 409.7l2.9 2.9l-2.9 2.9l-2.9 -2.9zM430.1 412.4l2.9 2.9l-2.9 2.9l-2.9 -2.9zM429.9 415.3l2.9 2.9l-2.9 2.9l-2.9 -2.9zM430.6 418.2l2.9 2.9l-2.9 2.9l-2.9 -2.9zM429.2 421.9l2.9 2.9l-2.9 2.9l-2.9 -2.9zM430.7 425.1l2.9 2.9l-2.9 2.9l-2.9 -2.9zM429.1 429.1l2.9 2.9l-2.9 2.9l-2.9 -2.9zM428.7 431.5l2.9 2.9l-2.9 2.9l-2.9 -2.9zM431.5 411.3l2.9 2.9l-2.9 2.9l-2.9 -2.9zM432.0 412.8l2.9 2.9l-2.9 2.9l-2.9 -2.9zM431.1 416.6l2.9 2.9l-2.9 2.9l-2.9 -2.9zM431.5 419.7l2.9 2.9l-2.9 2.9l-2.9 -2.9zM433.1 424.1l2.9 2.9l-2.9 2.9l-2.9 -2.9zM431.9 426.9l2.9 2.9l-2.9 2.9l-2.9 -2.9zM431.7 429.1l2.9 2.9l-2.9 2.9l-2.9 -2.9zM433.2 432.5l2.9 2.9l-2.9 2.9l-2.9 -2.9zM434.7 410.9l2.9 2.9l-2.9 2.9l-2.9 -2.9zM435.2 414.6l2.9 2.9l-2.9 2.9l-2.9 -2.9zM436.3 418.9l2.9 2.9l-2.9 2.9l-2.9 -2.9zM435.9 425.6l2.9 2.9l-2.9 2.9l-2.9 -2.9zM435.6 426.7l2.9 2.9l-2.9 2.9l-2.9 -2.9zM436.4 432.0l2.9 2.9l-2.9 2.9l-2.9 -2.9zM437.8 411.8l2.9 2.9l-2.9 2.9l-2.9 -2.9zM439.2 417.0l2.9 2.9l-2.9 2.9l-2.9 -2.9zM439.1 419.9l2.9 2.9l-2.9 2.9l-2.9 -2.9zM438.8 421.5l2.9 2.9l-2.9 2.9l-2.9 -2.9zM438.1 426.9l2.9 2.9l-2.9 2.9l-2.9 -2.9zM438.3 428.3l2.9 2.9l-2.9 2.9l-2.9 -2.9zM439.1 433.0l2.9 2.9l-2.9 2.9l-2.9 -2.9zM442.1 405.3l2.9 2.9l-2.9 2.9l-2.9 -2.9zM441.4 410.2l2.9 2.9l-2.9 2.9l-2.9 -2.9zM441.9 417.7l2.9 2.9l-2.9 2.9l-2.9 -2.9zM442.9 419.8l2.9 2.9l-2.9 2.9l-2.9 -2.9zM441.4 424.3l2.9 2.9l-2.9 2.9l-2.9 -2.9zM441.6 425.4l2.9 2.9l-2.9 2.9l-2.9 -2.9zM442.4 429.6l2.9 2.9l-2.9 2.9l-2.9 -2.9zM442.4 434.1l2.9 2.9l-2.9 2.9l-2.9 -2.9zM444.3 404.4l2.9 2.9l-2.9 2.9l-2.9 -2.9zM443.9 409.3l2.9 2.9l-2.9 2.9l-2.9 -2.9zM444.6 411.2l2.9 2.9l-2.9 2.9l-2.9 -2.9zM444.2 416.0l2.9 2.9l-2.9 2.9l-2.9 -2.9zM443.9 419.2l2.9 2.9l-2.9 2.9l-2.9 -2.9zM445.7 421.8l2.9 2.9l-2.9 2.9l-2.9 -2.9zM443.9 424.9l2.9 2.9l-2.9 2.9l-2.9 -2.9zM445.7 427.6l2.9 2.9l-2.9 2.9l-2.9 -2.9zM443.9 432.9l2.9 2.9l-2.9 2.9l-2.9 -2.9zM443.5 434.0l2.9 2.9l-2.9 2.9l-2.9 -2.9zM448.5 410.4l2.9 2.9l-2.9 2.9l-2.9 -2.9zM447.5 411.8l2.9 2.9l-2.9 2.9l-2.9 -2.9zM448.5 414.7l2.9 2.9l-2.9 2.9l-2.9 -2.9zM447.6 418.8l2.9 2.9l-2.9 2.9l-2.9 -2.9zM447.1 421.2l2.9 2.9l-2.9 2.9l-2.9 -2.9zM447.6 426.8l2.9 2.9l-2.9 2.9l-2.9 -2.9zM449.0 428.3l2.9 2.9l-2.9 2.9l-2.9 -2.9zM448.7 433.1l2.9 2.9l-2.9 2.9l-2.9 -2.9zM446.8 435.6l2.9 2.9l-2.9 2.9l-2.9 -2.9zM450.9 410.1l2.9 2.9l-2.9 2.9l-2.9 -2.9zM452.0 416.4l2.9 2.9l-2.9 2.9l-2.9 -2.9zM450.1 418.0l2.9 2.9l-2.9 2.9l-2.9 -2.9zM450.6 422.9l2.9 2.9l-2.9 2.9l-2.9 -2.9zM450.8 425.1l2.9 2.9l-2.9 2.9l-2.9 -2.9zM451.5 428.4l2.9 2.9l-2.9 2.9l-2.9 -2.9zM450.8 431.7l2.9 2.9l-2.9 2.9l-2.9 -2.9zM455.6 409.4l2.9 2.9l-2.9 2.9l-2.9 -2.9zM454.5 414.9l2.9 2.9l-2.9 2.9l-2.9 -2.9zM454.2 416.5l2.9 2.9l-2.9 2.9l-2.9 -2.9zM454.5 421.5l2.9 2.9l-2.9 2.9l-2.9 -2.9zM455.2 424.3l2.9 2.9l-2.9 2.9l-2.9 -2.9zM455.2 427.3l2.9 2.9l-2.9 2.9l-2.9 -2.9zM454.1 430.0l2.9 2.9l-2.9 2.9l-2.9 -2.9zM453.5 432.9l2.9 2.9l-2.9 2.9l-2.9 -2.9zM458.5 412.9l2.9 2.9l-2.9 2.9l-2.9 -2.9zM460.1 414.5l2.9 2.9l-2.9 2.9l-2.9 -2.9zM457.9 418.4l2.9 2.9l-2.9 2.9l-2.9 -2.9zM458.8 421.0l2.9 2.9l-2.9 2.9l-2.9 -2.9zM459.2 425.4l2.9 2.9l-2.9 2.9l-2.9 -2.9zM459.7 428.7l2.9 2.9l-2.9 2.9l-2.9 -2.9zM459.7 431.1l2.9 2.9l-2.9 2.9l-2.9 -2.9zM357.8 350.1l2.9 2.9l-2.9 2.9l-2.9 -2.9zM371.2 364.9l2.9 2.9l-2.9 2.9l-2.9 -2.9zM389.9 376.9l2.9 2.9l-2.9 2.9l-2.9 -2.9zM439.0 383.1l2.9 2.9l-2.9 2.9l-2.9 -2.9zM369.0 384.9l2.9 2.9l-2.9 2.9l-2.9 -2.9zM371.2 392.1l2.9 2.9l-2.9 2.9l-2.9 -2.9zM344.9 388.0l2.9 2.9l-2.9 2.9l-2.9 -2.9zM343.0 395.6l2.9 2.9l-2.9 2.9l-2.9 -2.9zM348.9 400.1l2.9 2.9l-2.9 2.9l-2.9 -2.9zM355.1 395.6l2.9 2.9l-2.9 2.9l-2.9 -2.9zM357.8 399.2l2.9 2.9l-2.9 2.9l-2.9 -2.9zM362.8 397.8l2.9 2.9l-2.9 2.9l-2.9 -2.9zM368.5 399.2l2.9 2.9l-2.9 2.9l-2.9 -2.9zM372.9 400.1l2.9 2.9l-2.9 2.9l-2.9 -2.9zM383.6 400.1l2.9 2.9l-2.9 2.9l-2.9 -2.9zM461.3 389.9l2.9 2.9l-2.9 2.9l-2.9 -2.9zM441.6 401.9l2.9 2.9l-2.9 2.9l-2.9 -2.9zM438.1 405.4l2.9 2.9l-2.9 2.9l-2.9 -2.9zM427.4 399.2l2.9 2.9l-2.9 2.9l-2.9 -2.9zM410.4 403.7l2.9 2.9l-2.9 2.9l-2.9 -2.9zM422.0 403.7l2.9 2.9l-2.9 2.9l-2.9 -2.9zM351.9 443.8l2.9 2.9l-2.9 2.9l-2.9 -2.9zM372.9 443.8l2.9 2.9l-2.9 2.9l-2.9 -2.9zM377.4 443.8l2.9 2.9l-2.9 2.9l-2.9 -2.9zM454.1 443.8l2.9 2.9l-2.9 2.9l-2.9 -2.9zM428.2 434.0l2.9 2.9l-2.9 2.9l-2.9 -2.9zM407.7 434.0l2.9 2.9l-2.9 2.9l-2.9 -2.9zM452.3 434.9l2.9 2.9l-2.9 2.9l-2.9 -2.9zM460.5 402.1l2.9 2.9l-2.9 2.9l-2.9 -2.9zM460.4 406.9l2.9 2.9l-2.9 2.9l-2.9 -2.9zM460.8 409.1l2.9 2.9l-2.9 2.9l-2.9 -2.9zM461.2 412.0l2.9 2.9l-2.9 2.9l-2.9 -2.9zM461.6 417.1l2.9 2.9l-2.9 2.9l-2.9 -2.9zM461.1 420.0l2.9 2.9l-2.9 2.9l-2.9 -2.9zM462.2 421.4l2.9 2.9l-2.9 2.9l-2.9 -2.9zM460.3 425.1l2.9 2.9l-2.9 2.9l-2.9 -2.9zM461.4 430.1l2.9 2.9l-2.9 2.9l-2.9 -2.9zM462.1 432.3l2.9 2.9l-2.9 2.9l-2.9 -2.9zM463.6 401.8l2.9 2.9l-2.9 2.9l-2.9 -2.9zM463.8 404.6l2.9 2.9l-2.9 2.9l-2.9 -2.9zM463.9 411.8l2.9 2.9l-2.9 2.9l-2.9 -2.9zM463.8 413.6l2.9 2.9l-2.9 2.9l-2.9 -2.9zM464.9 417.4l2.9 2.9l-2.9 2.9l-2.9 -2.9zM463.8 422.1l2.9 2.9l-2.9 2.9l-2.9 -2.9zM463.5 423.8l2.9 2.9l-2.9 2.9l-2.9 -2.9zM464.6 428.3l2.9 2.9l-2.9 2.9l-2.9 -2.9zM463.7 431.8l2.9 2.9l-2.9 2.9l-2.9 -2.9zM469.4 416.0l2.9 2.9l-2.9 2.9l-2.9 -2.9zM468.0 419.5l2.9 2.9l-2.9 2.9l-2.9 -2.9zM469.5 422.7l2.9 2.9l-2.9 2.9l-2.9 -2.9zM468.9 425.6l2.9 2.9l-2.9 2.9l-2.9 -2.9zM468.2 433.7l2.9 2.9l-2.9 2.9l-2.9 -2.9zM469.3 436.1l2.9 2.9l-2.9 2.9l-2.9 -2.9zM467.2 439.6l2.9 2.9l-2.9 2.9l-2.9 -2.9zM471.3 420.6l2.9 2.9l-2.9 2.9l-2.9 -2.9zM471.1 423.9l2.9 2.9l-2.9 2.9l-2.9 -2.9zM470.7 427.1l2.9 2.9l-2.9 2.9l-2.9 -2.9zM472.8 429.7l2.9 2.9l-2.9 2.9l-2.9 -2.9zM472.7 434.9l2.9 2.9l-2.9 2.9l-2.9 -2.9zM470.6 438.1l2.9 2.9l-2.9 2.9l-2.9 -2.9zM475.7 415.5l2.9 2.9l-2.9 2.9l-2.9 -2.9zM474.3 419.4l2.9 2.9l-2.9 2.9l-2.9 -2.9zM475.7 422.2l2.9 2.9l-2.9 2.9l-2.9 -2.9zM474.7 426.3l2.9 2.9l-2.9 2.9l-2.9 -2.9zM474.0 428.9l2.9 2.9l-2.9 2.9l-2.9 -2.9zM475.9 431.7l2.9 2.9l-2.9 2.9l-2.9 -2.9zM475.6 435.0l2.9 2.9l-2.9 2.9l-2.9 -2.9zM474.0 439.7l2.9 2.9l-2.9 2.9l-2.9 -2.9zM478.0 417.1l2.9 2.9l-2.9 2.9l-2.9 -2.9zM478.6 420.1l2.9 2.9l-2.9 2.9l-2.9 -2.9zM477.1 423.8l2.9 2.9l-2.9 2.9l-2.9 -2.9zM477.6 427.5l2.9 2.9l-2.9 2.9l-2.9 -2.9zM478.1 429.4l2.9 2.9l-2.9 2.9l-2.9 -2.9zM477.3 432.5l2.9 2.9l-2.9 2.9l-2.9 -2.9zM477.3 436.6l2.9 2.9l-2.9 2.9l-2.9 -2.9zM481.8 413.5l2.9 2.9l-2.9 2.9l-2.9 -2.9zM482.2 416.8l2.9 2.9l-2.9 2.9l-2.9 -2.9zM481.2 424.5l2.9 2.9l-2.9 2.9l-2.9 -2.9zM482.4 427.9l2.9 2.9l-2.9 2.9l-2.9 -2.9zM482.3 429.3l2.9 2.9l-2.9 2.9l-2.9 -2.9zM481.5 434.4l2.9 2.9l-2.9 2.9l-2.9 -2.9zM480.7 437.3l2.9 2.9l-2.9 2.9l-2.9 -2.9zM492.1 420.2l2.9 2.9l-2.9 2.9l-2.9 -2.9zM491.9 429.5l2.9 2.9l-2.9 2.9l-2.9 -2.9zM492.4 433.0l2.9 2.9l-2.9 2.9l-2.9 -2.9zM491.9 435.3l2.9 2.9l-2.9 2.9l-2.9 -2.9zM491.3 437.9l2.9 2.9l-2.9 2.9l-2.9 -2.9zM493.5 442.4l2.9 2.9l-2.9 2.9l-2.9 -2.9zM496.3 422.0l2.9 2.9l-2.9 2.9l-2.9 -2.9zM496.0 425.0l2.9 2.9l-2.9 2.9l-2.9 -2.9zM495.9 428.8l2.9 2.9l-2.9 2.9l-2.9 -2.9zM494.8 433.1l2.9 2.9l-2.9 2.9l-2.9 -2.9zM495.5 435.9l2.9 2.9l-2.9 2.9l-2.9 -2.9zM496.9 438.7l2.9 2.9l-2.9 2.9l-2.9 -2.9zM496.4 441.7l2.9 2.9l-2.9 2.9l-2.9 -2.9zM498.4 426.4l2.9 2.9l-2.9 2.9l-2.9 -2.9zM499.2 429.7l2.9 2.9l-2.9 2.9l-2.9 -2.9zM497.8 431.5l2.9 2.9l-2.9 2.9l-2.9 -2.9zM499.3 435.8l2.9 2.9l-2.9 2.9l-2.9 -2.9zM500.0 438.3l2.9 2.9l-2.9 2.9l-2.9 -2.9zM499.4 441.4l2.9 2.9l-2.9 2.9l-2.9 -2.9zM501.7 425.6l2.9 2.9l-2.9 2.9l-2.9 -2.9zM501.6 429.0l2.9 2.9l-2.9 2.9l-2.9 -2.9zM501.4 433.0l2.9 2.9l-2.9 2.9l-2.9 -2.9zM501.5 434.3l2.9 2.9l-2.9 2.9l-2.9 -2.9zM503.2 439.3l2.9 2.9l-2.9 2.9l-2.9 -2.9zM501.8 440.7l2.9 2.9l-2.9 2.9l-2.9 -2.9zM506.0 424.3l2.9 2.9l-2.9 2.9l-2.9 -2.9zM506.2 427.1l2.9 2.9l-2.9 2.9l-2.9 -2.9zM504.5 431.1l2.9 2.9l-2.9 2.9l-2.9 -2.9zM505.0 433.2l2.9 2.9l-2.9 2.9l-2.9 -2.9zM504.5 437.7l2.9 2.9l-2.9 2.9l-2.9 -2.9zM504.8 440.2l2.9 2.9l-2.9 2.9l-2.9 -2.9zM509.7 423.5l2.9 2.9l-2.9 2.9l-2.9 -2.9zM508.4 426.5l2.9 2.9l-2.9 2.9l-2.9 -2.9zM509.6 431.4l2.9 2.9l-2.9 2.9l-2.9 -2.9zM509.5 437.4l2.9 2.9l-2.9 2.9l-2.9 -2.9zM508.8 440.1l2.9 2.9l-2.9 2.9l-2.9 -2.9zM513.5 422.7l2.9 2.9l-2.9 2.9l-2.9 -2.9zM513.4 424.9l2.9 2.9l-2.9 2.9l-2.9 -2.9zM512.8 429.5l2.9 2.9l-2.9 2.9l-2.9 -2.9zM512.4 432.4l2.9 2.9l-2.9 2.9l-2.9 -2.9zM512.3 436.3l2.9 2.9l-2.9 2.9l-2.9 -2.9zM512.3 442.6l2.9 2.9l-2.9 2.9l-2.9 -2.9zM517.2 421.5l2.9 2.9l-2.9 2.9l-2.9 -2.9zM517.2 425.5l2.9 2.9l-2.9 2.9l-2.9 -2.9zM516.6 429.7l2.9 2.9l-2.9 2.9l-2.9 -2.9zM517.1 432.3l2.9 2.9l-2.9 2.9l-2.9 -2.9zM516.1 435.7l2.9 2.9l-2.9 2.9l-2.9 -2.9zM515.8 437.7l2.9 2.9l-2.9 2.9l-2.9 -2.9zM515.2 442.7l2.9 2.9l-2.9 2.9l-2.9 -2.9zM518.8 413.3l2.9 2.9l-2.9 2.9l-2.9 -2.9zM518.7 417.9l2.9 2.9l-2.9 2.9l-2.9 -2.9zM519.9 426.1l2.9 2.9l-2.9 2.9l-2.9 -2.9zM518.5 429.2l2.9 2.9l-2.9 2.9l-2.9 -2.9zM520.3 433.0l2.9 2.9l-2.9 2.9l-2.9 -2.9zM518.5 436.4l2.9 2.9l-2.9 2.9l-2.9 -2.9zM520.6 437.9l2.9 2.9l-2.9 2.9l-2.9 -2.9zM518.6 441.0l2.9 2.9l-2.9 2.9l-2.9 -2.9zM523.6 421.9l2.9 2.9l-2.9 2.9l-2.9 -2.9zM521.9 423.9l2.9 2.9l-2.9 2.9l-2.9 -2.9zM522.1 427.7l2.9 2.9l-2.9 2.9l-2.9 -2.9zM521.7 430.9l2.9 2.9l-2.9 2.9l-2.9 -2.9zM523.4 434.5l2.9 2.9l-2.9 2.9l-2.9 -2.9zM524.0 438.1l2.9 2.9l-2.9 2.9l-2.9 -2.9zM523.1 440.2l2.9 2.9l-2.9 2.9l-2.9 -2.9zM525.8 420.5l2.9 2.9l-2.9 2.9l-2.9 -2.9zM525.5 424.2l2.9 2.9l-2.9 2.9l-2.9 -2.9zM526.9 425.8l2.9 2.9l-2.9 2.9l-2.9 -2.9zM526.8 434.4l2.9 2.9l-2.9 2.9l-2.9 -2.9zM526.1 440.5l2.9 2.9l-2.9 2.9l-2.9 -2.9zM526.1 442.7l2.9 2.9l-2.9 2.9l-2.9 -2.9zM528.9 420.8l2.9 2.9l-2.9 2.9l-2.9 -2.9zM529.4 423.9l2.9 2.9l-2.9 2.9l-2.9 -2.9zM528.4 428.8l2.9 2.9l-2.9 2.9l-2.9 -2.9zM530.1 431.7l2.9 2.9l-2.9 2.9l-2.9 -2.9zM529.2 434.5l2.9 2.9l-2.9 2.9l-2.9 -2.9zM528.4 438.9l2.9 2.9l-2.9 2.9l-2.9 -2.9zM529.9 387.7l2.9 2.9l-2.9 2.9l-2.9 -2.9zM529.2 391.2l2.9 2.9l-2.9 2.9l-2.9 -2.9zM530.5 395.2l2.9 2.9l-2.9 2.9l-2.9 -2.9zM529.5 397.5l2.9 2.9l-2.9 2.9l-2.9 -2.9zM530.7 401.6l2.9 2.9l-2.9 2.9l-2.9 -2.9zM529.1 404.4l2.9 2.9l-2.9 2.9l-2.9 -2.9zM534.1 392.8l2.9 2.9l-2.9 2.9l-2.9 -2.9zM532.7 397.2l2.9 2.9l-2.9 2.9l-2.9 -2.9zM532.4 399.2l2.9 2.9l-2.9 2.9l-2.9 -2.9zM532.8 403.3l2.9 2.9l-2.9 2.9l-2.9 -2.9zM532.8 405.8l2.9 2.9l-2.9 2.9l-2.9 -2.9zM535.5 393.8l2.9 2.9l-2.9 2.9l-2.9 -2.9zM537.2 398.0l2.9 2.9l-2.9 2.9l-2.9 -2.9zM535.8 401.0l2.9 2.9l-2.9 2.9l-2.9 -2.9zM535.8 403.7l2.9 2.9l-2.9 2.9l-2.9 -2.9zM553.5 413.3l2.9 2.9l-2.9 2.9l-2.9 -2.9zM553.0 415.7l2.9 2.9l-2.9 2.9l-2.9 -2.9zM552.9 420.5l2.9 2.9l-2.9 2.9l-2.9 -2.9zM552.9 423.4l2.9 2.9l-2.9 2.9l-2.9 -2.9zM552.9 425.8l2.9 2.9l-2.9 2.9l-2.9 -2.9zM554.0 430.4l2.9 2.9l-2.9 2.9l-2.9 -2.9zM553.9 433.5l2.9 2.9l-2.9 2.9l-2.9 -2.9zM556.7 414.5l2.9 2.9l-2.9 2.9l-2.9 -2.9zM557.1 419.3l2.9 2.9l-2.9 2.9l-2.9 -2.9zM555.8 421.9l2.9 2.9l-2.9 2.9l-2.9 -2.9zM556.7 425.2l2.9 2.9l-2.9 2.9l-2.9 -2.9zM557.4 427.9l2.9 2.9l-2.9 2.9l-2.9 -2.9zM557.0 431.7l2.9 2.9l-2.9 2.9l-2.9 -2.9zM558.9 418.9l2.9 2.9l-2.9 2.9l-2.9 -2.9zM559.7 420.6l2.9 2.9l-2.9 2.9l-2.9 -2.9zM559.8 425.3l2.9 2.9l-2.9 2.9l-2.9 -2.9zM560.0 428.9l2.9 2.9l-2.9 2.9l-2.9 -2.9zM559.5 432.5l2.9 2.9l-2.9 2.9l-2.9 -2.9zM563.6 413.0l2.9 2.9l-2.9 2.9l-2.9 -2.9zM562.6 416.2l2.9 2.9l-2.9 2.9l-2.9 -2.9zM562.7 419.4l2.9 2.9l-2.9 2.9l-2.9 -2.9zM562.8 424.3l2.9 2.9l-2.9 2.9l-2.9 -2.9zM562.4 426.5l2.9 2.9l-2.9 2.9l-2.9 -2.9zM564.0 430.5l2.9 2.9l-2.9 2.9l-2.9 -2.9zM563.7 433.5l2.9 2.9l-2.9 2.9l-2.9 -2.9zM560.8 429.9l2.9 2.9l-2.9 2.9l-2.9 -2.9zM560.1 435.5l2.9 2.9l-2.9 2.9l-2.9 -2.9zM561.3 438.3l2.9 2.9l-2.9 2.9l-2.9 -2.9zM561.0 442.7l2.9 2.9l-2.9 2.9l-2.9 -2.9zM562.6 437.1l2.9 2.9l-2.9 2.9l-2.9 -2.9zM564.4 439.0l2.9 2.9l-2.9 2.9l-2.9 -2.9zM562.9 442.7l2.9 2.9l-2.9 2.9l-2.9 -2.9zM568.7 417.1l2.9 2.9l-2.9 2.9l-2.9 -2.9zM567.8 420.9l2.9 2.9l-2.9 2.9l-2.9 -2.9zM568.6 424.7l2.9 2.9l-2.9 2.9l-2.9 -2.9zM569.3 428.4l2.9 2.9l-2.9 2.9l-2.9 -2.9zM569.0 431.8l2.9 2.9l-2.9 2.9l-2.9 -2.9zM567.4 435.0l2.9 2.9l-2.9 2.9l-2.9 -2.9zM567.1 436.3l2.9 2.9l-2.9 2.9l-2.9 -2.9zM568.6 440.2l2.9 2.9l-2.9 2.9l-2.9 -2.9zM571.0 415.3l2.9 2.9l-2.9 2.9l-2.9 -2.9zM570.7 421.6l2.9 2.9l-2.9 2.9l-2.9 -2.9zM570.8 424.9l2.9 2.9l-2.9 2.9l-2.9 -2.9zM572.2 427.7l2.9 2.9l-2.9 2.9l-2.9 -2.9zM572.2 431.4l2.9 2.9l-2.9 2.9l-2.9 -2.9zM572.0 433.9l2.9 2.9l-2.9 2.9l-2.9 -2.9zM571.4 438.1l2.9 2.9l-2.9 2.9l-2.9 -2.9zM571.0 439.8l2.9 2.9l-2.9 2.9l-2.9 -2.9zM574.0 424.1l2.9 2.9l-2.9 2.9l-2.9 -2.9zM574.9 428.3l2.9 2.9l-2.9 2.9l-2.9 -2.9zM574.8 434.2l2.9 2.9l-2.9 2.9l-2.9 -2.9zM575.7 437.0l2.9 2.9l-2.9 2.9l-2.9 -2.9zM576.0 439.6l2.9 2.9l-2.9 2.9l-2.9 -2.9zM578.6 426.9l2.9 2.9l-2.9 2.9l-2.9 -2.9zM579.3 429.2l2.9 2.9l-2.9 2.9l-2.9 -2.9zM579.1 431.4l2.9 2.9l-2.9 2.9l-2.9 -2.9zM578.4 435.4l2.9 2.9l-2.9 2.9l-2.9 -2.9zM577.8 439.0l2.9 2.9l-2.9 2.9l-2.9 -2.9zM578.8 441.7l2.9 2.9l-2.9 2.9l-2.9 -2.9zM582.2 421.4l2.9 2.9l-2.9 2.9l-2.9 -2.9zM581.2 425.2l2.9 2.9l-2.9 2.9l-2.9 -2.9zM581.5 429.6l2.9 2.9l-2.9 2.9l-2.9 -2.9zM582.1 431.4l2.9 2.9l-2.9 2.9l-2.9 -2.9zM581.0 435.3l2.9 2.9l-2.9 2.9l-2.9 -2.9zM582.1 437.3l2.9 2.9l-2.9 2.9l-2.9 -2.9zM582.4 441.8l2.9 2.9l-2.9 2.9l-2.9 -2.9zM585.8 424.0l2.9 2.9l-2.9 2.9l-2.9 -2.9zM585.4 428.1l2.9 2.9l-2.9 2.9l-2.9 -2.9zM585.0 430.7l2.9 2.9l-2.9 2.9l-2.9 -2.9zM585.0 434.1l2.9 2.9l-2.9 2.9l-2.9 -2.9zM585.1 436.9l2.9 2.9l-2.9 2.9l-2.9 -2.9zM583.8 439.5l2.9 2.9l-2.9 2.9l-2.9 -2.9zM585.4 444.6l2.9 2.9l-2.9 2.9l-2.9 -2.9zM588.7 422.8l2.9 2.9l-2.9 2.9l-2.9 -2.9zM587.6 425.8l2.9 2.9l-2.9 2.9l-2.9 -2.9zM587.9 429.6l2.9 2.9l-2.9 2.9l-2.9 -2.9zM587.0 432.7l2.9 2.9l-2.9 2.9l-2.9 -2.9zM587.1 436.6l2.9 2.9l-2.9 2.9l-2.9 -2.9zM589.1 439.0l2.9 2.9l-2.9 2.9l-2.9 -2.9zM592.5 421.6l2.9 2.9l-2.9 2.9l-2.9 -2.9zM590.4 425.3l2.9 2.9l-2.9 2.9l-2.9 -2.9zM590.5 427.1l2.9 2.9l-2.9 2.9l-2.9 -2.9zM590.4 436.0l2.9 2.9l-2.9 2.9l-2.9 -2.9zM592.2 437.3l2.9 2.9l-2.9 2.9l-2.9 -2.9zM593.9 421.8l2.9 2.9l-2.9 2.9l-2.9 -2.9zM595.2 427.0l2.9 2.9l-2.9 2.9l-2.9 -2.9zM593.6 429.8l2.9 2.9l-2.9 2.9l-2.9 -2.9zM594.6 433.8l2.9 2.9l-2.9 2.9l-2.9 -2.9zM595.8 436.6l2.9 2.9l-2.9 2.9l-2.9 -2.9zM598.5 425.1l2.9 2.9l-2.9 2.9l-2.9 -2.9zM597.9 428.2l2.9 2.9l-2.9 2.9l-2.9 -2.9zM598.1 432.4l2.9 2.9l-2.9 2.9l-2.9 -2.9zM597.1 436.6l2.9 2.9l-2.9 2.9l-2.9 -2.9zM598.3 439.5l2.9 2.9l-2.9 2.9l-2.9 -2.9zM597.7 443.1l2.9 2.9l-2.9 2.9l-2.9 -2.9zM601.6 428.0l2.9 2.9l-2.9 2.9l-2.9 -2.9zM602.6 433.1l2.9 2.9l-2.9 2.9l-2.9 -2.9zM602.4 436.8l2.9 2.9l-2.9 2.9l-2.9 -2.9zM602.4 438.5l2.9 2.9l-2.9 2.9l-2.9 -2.9zM603.1 442.0l2.9 2.9l-2.9 2.9l-2.9 -2.9zM606.2 427.6l2.9 2.9l-2.9 2.9l-2.9 -2.9zM605.3 434.9l2.9 2.9l-2.9 2.9l-2.9 -2.9zM606.4 436.9l2.9 2.9l-2.9 2.9l-2.9 -2.9zM606.2 442.2l2.9 2.9l-2.9 2.9l-2.9 -2.9zM609.5 428.2l2.9 2.9l-2.9 2.9l-2.9 -2.9zM608.4 430.0l2.9 2.9l-2.9 2.9l-2.9 -2.9zM609.5 433.6l2.9 2.9l-2.9 2.9l-2.9 -2.9zM609.8 437.0l2.9 2.9l-2.9 2.9l-2.9 -2.9zM609.2 440.8l2.9 2.9l-2.9 2.9l-2.9 -2.9zM613.6 415.6l2.9 2.9l-2.9 2.9l-2.9 -2.9zM613.5 421.7l2.9 2.9l-2.9 2.9l-2.9 -2.9zM613.8 426.5l2.9 2.9l-2.9 2.9l-2.9 -2.9zM612.8 429.1l2.9 2.9l-2.9 2.9l-2.9 -2.9zM612.1 431.4l2.9 2.9l-2.9 2.9l-2.9 -2.9zM612.5 435.6l2.9 2.9l-2.9 2.9l-2.9 -2.9zM612.9 438.0l2.9 2.9l-2.9 2.9l-2.9 -2.9zM614.0 441.8l2.9 2.9l-2.9 2.9l-2.9 -2.9zM615.3 415.6l2.9 2.9l-2.9 2.9l-2.9 -2.9zM616.2 417.5l2.9 2.9l-2.9 2.9l-2.9 -2.9zM617.3 422.8l2.9 2.9l-2.9 2.9l-2.9 -2.9zM616.3 424.7l2.9 2.9l-2.9 2.9l-2.9 -2.9zM616.0 429.6l2.9 2.9l-2.9 2.9l-2.9 -2.9zM616.9 432.9l2.9 2.9l-2.9 2.9l-2.9 -2.9zM615.0 434.4l2.9 2.9l-2.9 2.9l-2.9 -2.9zM615.2 437.4l2.9 2.9l-2.9 2.9l-2.9 -2.9zM617.0 441.6l2.9 2.9l-2.9 2.9l-2.9 -2.9zM619.2 420.7l2.9 2.9l-2.9 2.9l-2.9 -2.9zM618.9 425.1l2.9 2.9l-2.9 2.9l-2.9 -2.9zM620.5 428.7l2.9 2.9l-2.9 2.9l-2.9 -2.9zM619.3 430.7l2.9 2.9l-2.9 2.9l-2.9 -2.9zM620.6 434.2l2.9 2.9l-2.9 2.9l-2.9 -2.9zM618.9 437.8l2.9 2.9l-2.9 2.9l-2.9 -2.9zM620.4 442.3l2.9 2.9l-2.9 2.9l-2.9 -2.9zM623.1 416.3l2.9 2.9l-2.9 2.9l-2.9 -2.9zM623.4 422.8l2.9 2.9l-2.9 2.9l-2.9 -2.9zM622.3 425.2l2.9 2.9l-2.9 2.9l-2.9 -2.9zM621.8 427.9l2.9 2.9l-2.9 2.9l-2.9 -2.9zM621.8 431.6l2.9 2.9l-2.9 2.9l-2.9 -2.9zM622.1 434.1l2.9 2.9l-2.9 2.9l-2.9 -2.9zM621.6 438.7l2.9 2.9l-2.9 2.9l-2.9 -2.9zM621.6 442.5l2.9 2.9l-2.9 2.9l-2.9 -2.9zM627.0 414.9l2.9 2.9l-2.9 2.9l-2.9 -2.9zM625.1 420.1l2.9 2.9l-2.9 2.9l-2.9 -2.9zM626.4 422.2l2.9 2.9l-2.9 2.9l-2.9 -2.9zM626.8 425.6l2.9 2.9l-2.9 2.9l-2.9 -2.9zM625.2 428.3l2.9 2.9l-2.9 2.9l-2.9 -2.9zM626.6 432.4l2.9 2.9l-2.9 2.9l-2.9 -2.9zM626.9 435.0l2.9 2.9l-2.9 2.9l-2.9 -2.9zM625.2 438.3l2.9 2.9l-2.9 2.9l-2.9 -2.9zM625.7 441.3l2.9 2.9l-2.9 2.9l-2.9 -2.9zM628.4 417.9l2.9 2.9l-2.9 2.9l-2.9 -2.9zM629.8 422.6l2.9 2.9l-2.9 2.9l-2.9 -2.9zM628.8 426.0l2.9 2.9l-2.9 2.9l-2.9 -2.9zM629.0 431.1l2.9 2.9l-2.9 2.9l-2.9 -2.9zM630.4 432.3l2.9 2.9l-2.9 2.9l-2.9 -2.9zM630.3 435.5l2.9 2.9l-2.9 2.9l-2.9 -2.9zM628.9 441.0l2.9 2.9l-2.9 2.9l-2.9 -2.9zM632.7 423.7l2.9 2.9l-2.9 2.9l-2.9 -2.9zM633.6 427.1l2.9 2.9l-2.9 2.9l-2.9 -2.9zM631.8 430.3l2.9 2.9l-2.9 2.9l-2.9 -2.9zM633.2 433.6l2.9 2.9l-2.9 2.9l-2.9 -2.9zM631.7 437.9l2.9 2.9l-2.9 2.9l-2.9 -2.9zM632.1 440.2l2.9 2.9l-2.9 2.9l-2.9 -2.9zM636.1 416.4l2.9 2.9l-2.9 2.9l-2.9 -2.9zM635.7 424.3l2.9 2.9l-2.9 2.9l-2.9 -2.9zM636.7 426.7l2.9 2.9l-2.9 2.9l-2.9 -2.9zM636.8 430.3l2.9 2.9l-2.9 2.9l-2.9 -2.9zM635.9 437.8l2.9 2.9l-2.9 2.9l-2.9 -2.9zM635.2 441.0l2.9 2.9l-2.9 2.9l-2.9 -2.9zM635.1 443.2l2.9 2.9l-2.9 2.9l-2.9 -2.9zM639.7 414.5l2.9 2.9l-2.9 2.9l-2.9 -2.9zM638.7 419.4l2.9 2.9l-2.9 2.9l-2.9 -2.9zM640.5 421.7l2.9 2.9l-2.9 2.9l-2.9 -2.9zM639.3 426.1l2.9 2.9l-2.9 2.9l-2.9 -2.9zM640.5 429.9l2.9 2.9l-2.9 2.9l-2.9 -2.9zM639.6 432.1l2.9 2.9l-2.9 2.9l-2.9 -2.9zM638.5 436.5l2.9 2.9l-2.9 2.9l-2.9 -2.9zM638.8 437.7l2.9 2.9l-2.9 2.9l-2.9 -2.9zM640.4 440.8l2.9 2.9l-2.9 2.9l-2.9 -2.9zM641.8 417.3l2.9 2.9l-2.9 2.9l-2.9 -2.9zM643.0 420.9l2.9 2.9l-2.9 2.9l-2.9 -2.9zM643.8 424.2l2.9 2.9l-2.9 2.9l-2.9 -2.9zM642.0 427.0l2.9 2.9l-2.9 2.9l-2.9 -2.9zM642.4 429.4l2.9 2.9l-2.9 2.9l-2.9 -2.9zM642.0 433.8l2.9 2.9l-2.9 2.9l-2.9 -2.9zM642.1 437.1l2.9 2.9l-2.9 2.9l-2.9 -2.9zM642.1 441.0l2.9 2.9l-2.9 2.9l-2.9 -2.9zM642.6 443.3l2.9 2.9l-2.9 2.9l-2.9 -2.9zM647.3 420.4l2.9 2.9l-2.9 2.9l-2.9 -2.9zM645.6 422.7l2.9 2.9l-2.9 2.9l-2.9 -2.9zM647.4 427.1l2.9 2.9l-2.9 2.9l-2.9 -2.9zM647.0 430.5l2.9 2.9l-2.9 2.9l-2.9 -2.9zM646.3 434.1l2.9 2.9l-2.9 2.9l-2.9 -2.9zM645.6 436.1l2.9 2.9l-2.9 2.9l-2.9 -2.9zM645.9 439.6l2.9 2.9l-2.9 2.9l-2.9 -2.9zM646.1 442.9l2.9 2.9l-2.9 2.9l-2.9 -2.9zM650.5 411.5l2.9 2.9l-2.9 2.9l-2.9 -2.9zM649.8 417.6l2.9 2.9l-2.9 2.9l-2.9 -2.9zM650.4 419.0l2.9 2.9l-2.9 2.9l-2.9 -2.9zM648.9 423.8l2.9 2.9l-2.9 2.9l-2.9 -2.9zM649.6 427.7l2.9 2.9l-2.9 2.9l-2.9 -2.9zM648.9 430.1l2.9 2.9l-2.9 2.9l-2.9 -2.9zM650.6 432.8l2.9 2.9l-2.9 2.9l-2.9 -2.9zM649.9 435.7l2.9 2.9l-2.9 2.9l-2.9 -2.9zM650.6 439.9l2.9 2.9l-2.9 2.9l-2.9 -2.9zM649.4 443.3l2.9 2.9l-2.9 2.9l-2.9 -2.9zM652.1 413.4l2.9 2.9l-2.9 2.9l-2.9 -2.9zM652.3 416.7l2.9 2.9l-2.9 2.9l-2.9 -2.9zM653.6 424.1l2.9 2.9l-2.9 2.9l-2.9 -2.9zM653.2 426.5l2.9 2.9l-2.9 2.9l-2.9 -2.9zM652.7 430.6l2.9 2.9l-2.9 2.9l-2.9 -2.9zM652.7 433.3l2.9 2.9l-2.9 2.9l-2.9 -2.9zM652.1 437.1l2.9 2.9l-2.9 2.9l-2.9 -2.9zM653.0 439.2l2.9 2.9l-2.9 2.9l-2.9 -2.9zM461.8 389.9l2.9 2.9l-2.9 2.9l-2.9 -2.9zM466.2 389.9l2.9 2.9l-2.9 2.9l-2.9 -2.9zM531.9 367.1l2.9 2.9l-2.9 2.9l-2.9 -2.9zM535.8 380.5l2.9 2.9l-2.9 2.9l-2.9 -2.9zM532.3 386.7l2.9 2.9l-2.9 2.9l-2.9 -2.9zM521.2 409.9l2.9 2.9l-2.9 2.9l-2.9 -2.9zM511.7 418.8l2.9 2.9l-2.9 2.9l-2.9 -2.9zM528.7 418.8l2.9 2.9l-2.9 2.9l-2.9 -2.9zM547.4 443.8l2.9 2.9l-2.9 2.9l-2.9 -2.9zM550.1 438.4l2.9 2.9l-2.9 2.9l-2.9 -2.9zM552.8 443.8l2.9 2.9l-2.9 2.9l-2.9 -2.9zM556.9 359.9l2.9 2.9l-2.9 2.9l-2.9 -2.9zM560.8 382.8l2.9 2.9l-2.9 2.9l-2.9 -2.9zM559.0 388.5l2.9 2.9l-2.9 2.9l-2.9 -2.9zM565.3 384.9l2.9 2.9l-2.9 2.9l-2.9 -2.9zM567.0 388.5l2.9 2.9l-2.9 2.9l-2.9 -2.9zM554.6 393.8l2.9 2.9l-2.9 2.9l-2.9 -2.9zM563.5 393.8l2.9 2.9l-2.9 2.9l-2.9 -2.9zM562.6 398.3l2.9 2.9l-2.9 2.9l-2.9 -2.9zM570.6 399.2l2.9 2.9l-2.9 2.9l-2.9 -2.9zM571.5 404.5l2.9 2.9l-2.9 2.9l-2.9 -2.9zM556.3 405.4l2.9 2.9l-2.9 2.9l-2.9 -2.9zM562.6 404.5l2.9 2.9l-2.9 2.9l-2.9 -2.9zM559.9 401.0l2.9 2.9l-2.9 2.9l-2.9 -2.9zM558.1 413.5l2.9 2.9l-2.9 2.9l-2.9 -2.9zM565.3 415.2l2.9 2.9l-2.9 2.9l-2.9 -2.9zM606.3 423.3l2.9 2.9l-2.9 2.9l-2.9 -2.9zM628.6 405.4l2.9 2.9l-2.9 2.9l-2.9 -2.9zM645.9 393.8l2.9 2.9l-2.9 2.9l-2.9 -2.9zM643.8 410.8l2.9 2.9l-2.9 2.9l-2.9 -2.9zM638.4 414.4l2.9 2.9l-2.9 2.9l-2.9 -2.9zM617.0 412.6l2.9 2.9l-2.9 2.9l-2.9 -2.9zM468.9 439.3l2.9 2.9l-2.9 2.9l-2.9 -2.9zM481.4 439.3l2.9 2.9l-2.9 2.9l-2.9 -2.9zM479.6 415.2l2.9 2.9l-2.9 2.9l-2.9 -2.9zM482.3 414.4l2.9 2.9l-2.9 2.9l-2.9 -2.9zM591.1 418.8l2.9 2.9l-2.9 2.9l-2.9 -2.9zM597.4 424.5l2.9 2.9l-2.9 2.9l-2.9 -2.9zM540.3 418.8l2.9 2.9l-2.9 2.9l-2.9 -2.9zM540.3 424.2l2.9 2.9l-2.9 2.9l-2.9 -2.9zM540.3 429.5l2.9 2.9l-2.9 2.9l-2.9 -2.9zM540.3 434.9l2.9 2.9l-2.9 2.9l-2.9 -2.9zM538.5 443.8l2.9 2.9l-2.9 2.9l-2.9 -2.9zM656.3 419.8l2.9 2.9l-2.9 2.9l-2.9 -2.9zM657.4 422.6l2.9 2.9l-2.9 2.9l-2.9 -2.9zM655.4 425.3l2.9 2.9l-2.9 2.9l-2.9 -2.9zM656.1 428.6l2.9 2.9l-2.9 2.9l-2.9 -2.9zM656.1 433.6l2.9 2.9l-2.9 2.9l-2.9 -2.9zM655.5 437.4l2.9 2.9l-2.9 2.9l-2.9 -2.9zM655.4 439.2l2.9 2.9l-2.9 2.9l-2.9 -2.9zM656.6 443.2l2.9 2.9l-2.9 2.9l-2.9 -2.9zM660.1 422.2l2.9 2.9l-2.9 2.9l-2.9 -2.9zM659.4 425.6l2.9 2.9l-2.9 2.9l-2.9 -2.9zM660.5 427.3l2.9 2.9l-2.9 2.9l-2.9 -2.9zM658.3 432.1l2.9 2.9l-2.9 2.9l-2.9 -2.9zM659.5 435.9l2.9 2.9l-2.9 2.9l-2.9 -2.9zM659.3 438.8l2.9 2.9l-2.9 2.9l-2.9 -2.9zM659.8 441.1l2.9 2.9l-2.9 2.9l-2.9 -2.9zM662.3 419.9l2.9 2.9l-2.9 2.9l-2.9 -2.9zM662.5 423.0l2.9 2.9l-2.9 2.9l-2.9 -2.9zM663.6 426.7l2.9 2.9l-2.9 2.9l-2.9 -2.9zM662.0 429.6l2.9 2.9l-2.9 2.9l-2.9 -2.9zM663.0 433.5l2.9 2.9l-2.9 2.9l-2.9 -2.9zM663.8 436.2l2.9 2.9l-2.9 2.9l-2.9 -2.9zM663.6 441.0l2.9 2.9l-2.9 2.9l-2.9 -2.9zM662.6 444.2l2.9 2.9l-2.9 2.9l-2.9 -2.9zM665.3 420.8l2.9 2.9l-2.9 2.9l-2.9 -2.9zM665.8 425.4l2.9 2.9l-2.9 2.9l-2.9 -2.9zM665.2 428.7l2.9 2.9l-2.9 2.9l-2.9 -2.9zM664.9 431.6l2.9 2.9l-2.9 2.9l-2.9 -2.9zM664.8 436.3l2.9 2.9l-2.9 2.9l-2.9 -2.9zM665.2 437.6l2.9 2.9l-2.9 2.9l-2.9 -2.9zM664.9 442.0l2.9 2.9l-2.9 2.9l-2.9 -2.9zM668.4 427.2l2.9 2.9l-2.9 2.9l-2.9 -2.9zM669.6 430.3l2.9 2.9l-2.9 2.9l-2.9 -2.9zM669.2 433.2l2.9 2.9l-2.9 2.9l-2.9 -2.9zM669.6 438.0l2.9 2.9l-2.9 2.9l-2.9 -2.9zM667.5 441.5l2.9 2.9l-2.9 2.9l-2.9 -2.9zM672.7 427.6l2.9 2.9l-2.9 2.9l-2.9 -2.9zM671.2 431.1l2.9 2.9l-2.9 2.9l-2.9 -2.9zM671.0 433.6l2.9 2.9l-2.9 2.9l-2.9 -2.9zM672.0 437.3l2.9 2.9l-2.9 2.9l-2.9 -2.9zM672.0 439.9l2.9 2.9l-2.9 2.9l-2.9 -2.9zM675.5 425.6l2.9 2.9l-2.9 2.9l-2.9 -2.9zM675.8 430.3l2.9 2.9l-2.9 2.9l-2.9 -2.9zM674.3 433.4l2.9 2.9l-2.9 2.9l-2.9 -2.9zM674.5 437.0l2.9 2.9l-2.9 2.9l-2.9 -2.9zM676.2 440.2l2.9 2.9l-2.9 2.9l-2.9 -2.9zM674.1 442.5l2.9 2.9l-2.9 2.9l-2.9 -2.9zM677.5 424.5l2.9 2.9l-2.9 2.9l-2.9 -2.9zM679.1 428.3l2.9 2.9l-2.9 2.9l-2.9 -2.9zM677.3 430.2l2.9 2.9l-2.9 2.9l-2.9 -2.9zM677.9 435.1l2.9 2.9l-2.9 2.9l-2.9 -2.9zM677.5 437.4l2.9 2.9l-2.9 2.9l-2.9 -2.9zM679.3 441.4l2.9 2.9l-2.9 2.9l-2.9 -2.9zM680.6 427.5l2.9 2.9l-2.9 2.9l-2.9 -2.9zM682.7 429.7l2.9 2.9l-2.9 2.9l-2.9 -2.9zM681.0 432.1l2.9 2.9l-2.9 2.9l-2.9 -2.9zM682.5 436.0l2.9 2.9l-2.9 2.9l-2.9 -2.9zM682.4 439.3l2.9 2.9l-2.9 2.9l-2.9 -2.9zM682.7 443.0l2.9 2.9l-2.9 2.9l-2.9 -2.9zM685.4 428.0l2.9 2.9l-2.9 2.9l-2.9 -2.9zM685.8 432.0l2.9 2.9l-2.9 2.9l-2.9 -2.9zM684.3 434.5l2.9 2.9l-2.9 2.9l-2.9 -2.9zM684.2 439.7l2.9 2.9l-2.9 2.9l-2.9 -2.9zM685.1 441.0l2.9 2.9l-2.9 2.9l-2.9 -2.9zM687.2 426.3l2.9 2.9l-2.9 2.9l-2.9 -2.9zM687.9 429.9l2.9 2.9l-2.9 2.9l-2.9 -2.9zM687.7 433.2l2.9 2.9l-2.9 2.9l-2.9 -2.9zM688.6 436.7l2.9 2.9l-2.9 2.9l-2.9 -2.9zM688.7 439.4l2.9 2.9l-2.9 2.9l-2.9 -2.9zM692.3 430.3l2.9 2.9l-2.9 2.9l-2.9 -2.9zM691.2 433.4l2.9 2.9l-2.9 2.9l-2.9 -2.9zM692.6 435.5l2.9 2.9l-2.9 2.9l-2.9 -2.9zM691.5 438.8l2.9 2.9l-2.9 2.9l-2.9 -2.9zM690.6 443.3l2.9 2.9l-2.9 2.9l-2.9 -2.9zM696.9 424.6l2.9 2.9l-2.9 2.9l-2.9 -2.9zM696.5 429.4l2.9 2.9l-2.9 2.9l-2.9 -2.9zM697.3 431.9l2.9 2.9l-2.9 2.9l-2.9 -2.9zM697.9 434.8l2.9 2.9l-2.9 2.9l-2.9 -2.9zM697.4 437.9l2.9 2.9l-2.9 2.9l-2.9 -2.9zM696.2 440.9l2.9 2.9l-2.9 2.9l-2.9 -2.9zM699.6 427.4l2.9 2.9l-2.9 2.9l-2.9 -2.9zM700.5 430.1l2.9 2.9l-2.9 2.9l-2.9 -2.9zM700.1 433.2l2.9 2.9l-2.9 2.9l-2.9 -2.9zM701.1 436.7l2.9 2.9l-2.9 2.9l-2.9 -2.9zM701.5 441.2l2.9 2.9l-2.9 2.9l-2.9 -2.9zM702.7 431.1l2.9 2.9l-2.9 2.9l-2.9 -2.9zM703.5 433.8l2.9 2.9l-2.9 2.9l-2.9 -2.9zM704.3 436.7l2.9 2.9l-2.9 2.9l-2.9 -2.9zM703.5 440.9l2.9 2.9l-2.9 2.9l-2.9 -2.9zM708.0 419.7l2.9 2.9l-2.9 2.9l-2.9 -2.9zM706.0 423.8l2.9 2.9l-2.9 2.9l-2.9 -2.9zM706.7 431.2l2.9 2.9l-2.9 2.9l-2.9 -2.9zM706.7 435.1l2.9 2.9l-2.9 2.9l-2.9 -2.9zM707.9 438.2l2.9 2.9l-2.9 2.9l-2.9 -2.9zM706.5 441.2l2.9 2.9l-2.9 2.9l-2.9 -2.9zM711.1 429.5l2.9 2.9l-2.9 2.9l-2.9 -2.9zM711.3 433.5l2.9 2.9l-2.9 2.9l-2.9 -2.9zM709.8 435.7l2.9 2.9l-2.9 2.9l-2.9 -2.9zM709.7 440.9l2.9 2.9l-2.9 2.9l-2.9 -2.9zM709.4 443.7l2.9 2.9l-2.9 2.9l-2.9 -2.9zM713.2 424.7l2.9 2.9l-2.9 2.9l-2.9 -2.9zM713.6 430.0l2.9 2.9l-2.9 2.9l-2.9 -2.9zM714.3 433.0l2.9 2.9l-2.9 2.9l-2.9 -2.9zM713.6 434.5l2.9 2.9l-2.9 2.9l-2.9 -2.9zM713.6 438.9l2.9 2.9l-2.9 2.9l-2.9 -2.9zM712.8 442.8l2.9 2.9l-2.9 2.9l-2.9 -2.9zM716.5 424.5l2.9 2.9l-2.9 2.9l-2.9 -2.9zM717.4 427.8l2.9 2.9l-2.9 2.9l-2.9 -2.9zM716.0 430.6l2.9 2.9l-2.9 2.9l-2.9 -2.9zM716.3 433.8l2.9 2.9l-2.9 2.9l-2.9 -2.9zM717.5 438.0l2.9 2.9l-2.9 2.9l-2.9 -2.9zM716.4 440.9l2.9 2.9l-2.9 2.9l-2.9 -2.9zM751.2 418.4l2.9 2.9l-2.9 2.9l-2.9 -2.9zM751.3 424.8l2.9 2.9l-2.9 2.9l-2.9 -2.9zM752.3 426.5l2.9 2.9l-2.9 2.9l-2.9 -2.9zM751.9 430.5l2.9 2.9l-2.9 2.9l-2.9 -2.9zM752.4 433.0l2.9 2.9l-2.9 2.9l-2.9 -2.9zM751.3 436.5l2.9 2.9l-2.9 2.9l-2.9 -2.9zM751.1 439.8l2.9 2.9l-2.9 2.9l-2.9 -2.9zM754.9 421.3l2.9 2.9l-2.9 2.9l-2.9 -2.9zM753.9 423.8l2.9 2.9l-2.9 2.9l-2.9 -2.9zM755.6 427.3l2.9 2.9l-2.9 2.9l-2.9 -2.9zM756.1 431.7l2.9 2.9l-2.9 2.9l-2.9 -2.9zM754.9 434.7l2.9 2.9l-2.9 2.9l-2.9 -2.9zM755.1 437.0l2.9 2.9l-2.9 2.9l-2.9 -2.9zM755.3 441.8l2.9 2.9l-2.9 2.9l-2.9 -2.9zM757.6 418.3l2.9 2.9l-2.9 2.9l-2.9 -2.9zM759.1 425.3l2.9 2.9l-2.9 2.9l-2.9 -2.9zM758.6 429.9l2.9 2.9l-2.9 2.9l-2.9 -2.9zM757.5 433.1l2.9 2.9l-2.9 2.9l-2.9 -2.9zM758.8 435.3l2.9 2.9l-2.9 2.9l-2.9 -2.9zM759.0 438.6l2.9 2.9l-2.9 2.9l-2.9 -2.9zM758.4 442.0l2.9 2.9l-2.9 2.9l-2.9 -2.9zM761.9 422.9l2.9 2.9l-2.9 2.9l-2.9 -2.9zM762.5 426.5l2.9 2.9l-2.9 2.9l-2.9 -2.9zM761.5 427.9l2.9 2.9l-2.9 2.9l-2.9 -2.9zM761.7 431.0l2.9 2.9l-2.9 2.9l-2.9 -2.9zM760.7 435.2l2.9 2.9l-2.9 2.9l-2.9 -2.9zM760.6 437.5l2.9 2.9l-2.9 2.9l-2.9 -2.9zM760.8 442.5l2.9 2.9l-2.9 2.9l-2.9 -2.9zM765.5 415.7l2.9 2.9l-2.9 2.9l-2.9 -2.9zM765.2 419.2l2.9 2.9l-2.9 2.9l-2.9 -2.9zM764.5 422.3l2.9 2.9l-2.9 2.9l-2.9 -2.9zM765.6 426.7l2.9 2.9l-2.9 2.9l-2.9 -2.9zM764.4 428.9l2.9 2.9l-2.9 2.9l-2.9 -2.9zM764.5 431.6l2.9 2.9l-2.9 2.9l-2.9 -2.9zM764.4 435.6l2.9 2.9l-2.9 2.9l-2.9 -2.9zM765.8 439.8l2.9 2.9l-2.9 2.9l-2.9 -2.9zM766.0 442.5l2.9 2.9l-2.9 2.9l-2.9 -2.9zM768.5 413.9l2.9 2.9l-2.9 2.9l-2.9 -2.9zM768.3 419.8l2.9 2.9l-2.9 2.9l-2.9 -2.9zM768.5 421.6l2.9 2.9l-2.9 2.9l-2.9 -2.9zM769.1 424.2l2.9 2.9l-2.9 2.9l-2.9 -2.9zM768.6 428.5l2.9 2.9l-2.9 2.9l-2.9 -2.9zM768.5 431.7l2.9 2.9l-2.9 2.9l-2.9 -2.9zM767.9 435.3l2.9 2.9l-2.9 2.9l-2.9 -2.9zM767.9 437.6l2.9 2.9l-2.9 2.9l-2.9 -2.9zM769.1 442.0l2.9 2.9l-2.9 2.9l-2.9 -2.9zM769.4 426.1l2.9 2.9l-2.9 2.9l-2.9 -2.9zM770.4 429.5l2.9 2.9l-2.9 2.9l-2.9 -2.9zM770.6 431.7l2.9 2.9l-2.9 2.9l-2.9 -2.9zM770.6 435.0l2.9 2.9l-2.9 2.9l-2.9 -2.9zM769.4 439.1l2.9 2.9l-2.9 2.9l-2.9 -2.9zM770.5 443.1l2.9 2.9l-2.9 2.9l-2.9 -2.9zM774.7 423.2l2.9 2.9l-2.9 2.9l-2.9 -2.9zM773.4 430.9l2.9 2.9l-2.9 2.9l-2.9 -2.9zM773.8 435.6l2.9 2.9l-2.9 2.9l-2.9 -2.9zM774.3 437.2l2.9 2.9l-2.9 2.9l-2.9 -2.9zM773.4 440.4l2.9 2.9l-2.9 2.9l-2.9 -2.9zM777.5 427.6l2.9 2.9l-2.9 2.9l-2.9 -2.9zM777.3 432.0l2.9 2.9l-2.9 2.9l-2.9 -2.9zM778.0 435.3l2.9 2.9l-2.9 2.9l-2.9 -2.9zM777.6 437.3l2.9 2.9l-2.9 2.9l-2.9 -2.9zM777.4 441.8l2.9 2.9l-2.9 2.9l-2.9 -2.9zM781.4 426.6l2.9 2.9l-2.9 2.9l-2.9 -2.9zM779.3 432.8l2.9 2.9l-2.9 2.9l-2.9 -2.9zM779.4 437.0l2.9 2.9l-2.9 2.9l-2.9 -2.9zM779.7 438.6l2.9 2.9l-2.9 2.9l-2.9 -2.9zM781.1 442.8l2.9 2.9l-2.9 2.9l-2.9 -2.9zM782.8 420.7l2.9 2.9l-2.9 2.9l-2.9 -2.9zM783.7 425.6l2.9 2.9l-2.9 2.9l-2.9 -2.9zM783.3 428.5l2.9 2.9l-2.9 2.9l-2.9 -2.9zM783.7 433.1l2.9 2.9l-2.9 2.9l-2.9 -2.9zM784.7 434.8l2.9 2.9l-2.9 2.9l-2.9 -2.9zM782.7 439.3l2.9 2.9l-2.9 2.9l-2.9 -2.9zM784.3 441.4l2.9 2.9l-2.9 2.9l-2.9 -2.9zM786.6 426.3l2.9 2.9l-2.9 2.9l-2.9 -2.9zM786.6 433.8l2.9 2.9l-2.9 2.9l-2.9 -2.9zM785.9 435.8l2.9 2.9l-2.9 2.9l-2.9 -2.9zM787.8 439.7l2.9 2.9l-2.9 2.9l-2.9 -2.9zM786.1 442.5l2.9 2.9l-2.9 2.9l-2.9 -2.9zM789.8 426.2l2.9 2.9l-2.9 2.9l-2.9 -2.9zM789.8 429.5l2.9 2.9l-2.9 2.9l-2.9 -2.9zM791.4 432.8l2.9 2.9l-2.9 2.9l-2.9 -2.9zM790.6 436.7l2.9 2.9l-2.9 2.9l-2.9 -2.9zM790.2 440.0l2.9 2.9l-2.9 2.9l-2.9 -2.9zM796.5 416.8l2.9 2.9l-2.9 2.9l-2.9 -2.9zM796.0 422.1l2.9 2.9l-2.9 2.9l-2.9 -2.9zM795.7 424.8l2.9 2.9l-2.9 2.9l-2.9 -2.9zM794.8 428.5l2.9 2.9l-2.9 2.9l-2.9 -2.9zM796.4 431.5l2.9 2.9l-2.9 2.9l-2.9 -2.9zM796.0 435.0l2.9 2.9l-2.9 2.9l-2.9 -2.9zM795.7 437.3l2.9 2.9l-2.9 2.9l-2.9 -2.9zM795.1 439.9l2.9 2.9l-2.9 2.9l-2.9 -2.9zM798.6 416.7l2.9 2.9l-2.9 2.9l-2.9 -2.9zM798.0 420.0l2.9 2.9l-2.9 2.9l-2.9 -2.9zM797.5 424.5l2.9 2.9l-2.9 2.9l-2.9 -2.9zM798.5 427.1l2.9 2.9l-2.9 2.9l-2.9 -2.9zM797.9 429.2l2.9 2.9l-2.9 2.9l-2.9 -2.9zM798.2 434.1l2.9 2.9l-2.9 2.9l-2.9 -2.9zM799.7 436.5l2.9 2.9l-2.9 2.9l-2.9 -2.9zM798.9 439.1l2.9 2.9l-2.9 2.9l-2.9 -2.9zM798.9 444.6l2.9 2.9l-2.9 2.9l-2.9 -2.9zM802.8 416.1l2.9 2.9l-2.9 2.9l-2.9 -2.9zM802.9 419.9l2.9 2.9l-2.9 2.9l-2.9 -2.9zM800.8 422.9l2.9 2.9l-2.9 2.9l-2.9 -2.9zM802.5 426.4l2.9 2.9l-2.9 2.9l-2.9 -2.9zM801.2 430.6l2.9 2.9l-2.9 2.9l-2.9 -2.9zM802.3 432.9l2.9 2.9l-2.9 2.9l-2.9 -2.9zM803.1 437.2l2.9 2.9l-2.9 2.9l-2.9 -2.9zM802.7 441.1l2.9 2.9l-2.9 2.9l-2.9 -2.9zM801.1 442.8l2.9 2.9l-2.9 2.9l-2.9 -2.9zM806.3 417.1l2.9 2.9l-2.9 2.9l-2.9 -2.9zM805.9 421.4l2.9 2.9l-2.9 2.9l-2.9 -2.9zM805.7 424.0l2.9 2.9l-2.9 2.9l-2.9 -2.9zM805.1 426.6l2.9 2.9l-2.9 2.9l-2.9 -2.9zM804.9 431.0l2.9 2.9l-2.9 2.9l-2.9 -2.9zM804.7 434.2l2.9 2.9l-2.9 2.9l-2.9 -2.9zM805.4 442.0l2.9 2.9l-2.9 2.9l-2.9 -2.9zM808.2 415.1l2.9 2.9l-2.9 2.9l-2.9 -2.9zM809.2 421.7l2.9 2.9l-2.9 2.9l-2.9 -2.9zM808.4 426.0l2.9 2.9l-2.9 2.9l-2.9 -2.9zM808.7 429.6l2.9 2.9l-2.9 2.9l-2.9 -2.9zM808.2 433.1l2.9 2.9l-2.9 2.9l-2.9 -2.9zM809.1 436.5l2.9 2.9l-2.9 2.9l-2.9 -2.9zM808.1 439.8l2.9 2.9l-2.9 2.9l-2.9 -2.9zM808.4 441.9l2.9 2.9l-2.9 2.9l-2.9 -2.9zM812.2 425.0l2.9 2.9l-2.9 2.9l-2.9 -2.9zM813.0 427.0l2.9 2.9l-2.9 2.9l-2.9 -2.9zM810.9 429.8l2.9 2.9l-2.9 2.9l-2.9 -2.9zM810.8 434.2l2.9 2.9l-2.9 2.9l-2.9 -2.9zM811.1 438.6l2.9 2.9l-2.9 2.9l-2.9 -2.9zM811.0 440.1l2.9 2.9l-2.9 2.9l-2.9 -2.9zM814.5 426.3l2.9 2.9l-2.9 2.9l-2.9 -2.9zM815.5 428.0l2.9 2.9l-2.9 2.9l-2.9 -2.9zM815.1 431.3l2.9 2.9l-2.9 2.9l-2.9 -2.9zM814.2 435.6l2.9 2.9l-2.9 2.9l-2.9 -2.9zM815.5 438.1l2.9 2.9l-2.9 2.9l-2.9 -2.9zM814.1 441.8l2.9 2.9l-2.9 2.9l-2.9 -2.9zM818.8 416.7l2.9 2.9l-2.9 2.9l-2.9 -2.9zM817.9 420.5l2.9 2.9l-2.9 2.9l-2.9 -2.9zM817.7 424.5l2.9 2.9l-2.9 2.9l-2.9 -2.9zM818.0 428.4l2.9 2.9l-2.9 2.9l-2.9 -2.9zM818.6 429.7l2.9 2.9l-2.9 2.9l-2.9 -2.9zM819.3 433.3l2.9 2.9l-2.9 2.9l-2.9 -2.9zM819.2 436.6l2.9 2.9l-2.9 2.9l-2.9 -2.9zM818.4 441.4l2.9 2.9l-2.9 2.9l-2.9 -2.9zM821.6 416.6l2.9 2.9l-2.9 2.9l-2.9 -2.9zM821.1 420.6l2.9 2.9l-2.9 2.9l-2.9 -2.9zM822.4 423.9l2.9 2.9l-2.9 2.9l-2.9 -2.9zM822.6 427.5l2.9 2.9l-2.9 2.9l-2.9 -2.9zM820.6 428.7l2.9 2.9l-2.9 2.9l-2.9 -2.9zM820.6 433.9l2.9 2.9l-2.9 2.9l-2.9 -2.9zM822.3 435.3l2.9 2.9l-2.9 2.9l-2.9 -2.9zM822.2 438.5l2.9 2.9l-2.9 2.9l-2.9 -2.9zM822.8 443.3l2.9 2.9l-2.9 2.9l-2.9 -2.9zM825.8 422.8l2.9 2.9l-2.9 2.9l-2.9 -2.9zM825.1 425.0l2.9 2.9l-2.9 2.9l-2.9 -2.9zM824.1 427.8l2.9 2.9l-2.9 2.9l-2.9 -2.9zM824.6 433.1l2.9 2.9l-2.9 2.9l-2.9 -2.9zM825.0 434.6l2.9 2.9l-2.9 2.9l-2.9 -2.9zM824.3 439.3l2.9 2.9l-2.9 2.9l-2.9 -2.9zM825.6 442.1l2.9 2.9l-2.9 2.9l-2.9 -2.9zM829.4 415.9l2.9 2.9l-2.9 2.9l-2.9 -2.9zM829.5 420.5l2.9 2.9l-2.9 2.9l-2.9 -2.9zM827.8 422.1l2.9 2.9l-2.9 2.9l-2.9 -2.9zM827.3 425.0l2.9 2.9l-2.9 2.9l-2.9 -2.9zM828.1 429.6l2.9 2.9l-2.9 2.9l-2.9 -2.9zM827.2 433.2l2.9 2.9l-2.9 2.9l-2.9 -2.9zM828.5 436.2l2.9 2.9l-2.9 2.9l-2.9 -2.9zM829.5 440.2l2.9 2.9l-2.9 2.9l-2.9 -2.9zM828.1 442.2l2.9 2.9l-2.9 2.9l-2.9 -2.9zM831.4 417.1l2.9 2.9l-2.9 2.9l-2.9 -2.9zM830.5 424.2l2.9 2.9l-2.9 2.9l-2.9 -2.9zM831.1 427.5l2.9 2.9l-2.9 2.9l-2.9 -2.9zM831.0 429.8l2.9 2.9l-2.9 2.9l-2.9 -2.9zM832.5 434.5l2.9 2.9l-2.9 2.9l-2.9 -2.9zM830.6 437.6l2.9 2.9l-2.9 2.9l-2.9 -2.9zM832.0 440.6l2.9 2.9l-2.9 2.9l-2.9 -2.9zM835.8 420.3l2.9 2.9l-2.9 2.9l-2.9 -2.9zM836.1 422.9l2.9 2.9l-2.9 2.9l-2.9 -2.9zM835.5 426.6l2.9 2.9l-2.9 2.9l-2.9 -2.9zM834.7 430.2l2.9 2.9l-2.9 2.9l-2.9 -2.9zM835.4 433.1l2.9 2.9l-2.9 2.9l-2.9 -2.9zM835.1 436.1l2.9 2.9l-2.9 2.9l-2.9 -2.9zM834.4 441.1l2.9 2.9l-2.9 2.9l-2.9 -2.9zM835.5 443.4l2.9 2.9l-2.9 2.9l-2.9 -2.9zM838.3 420.9l2.9 2.9l-2.9 2.9l-2.9 -2.9zM839.0 423.5l2.9 2.9l-2.9 2.9l-2.9 -2.9zM839.0 427.4l2.9 2.9l-2.9 2.9l-2.9 -2.9zM839.0 431.7l2.9 2.9l-2.9 2.9l-2.9 -2.9zM837.2 433.8l2.9 2.9l-2.9 2.9l-2.9 -2.9zM839.0 436.5l2.9 2.9l-2.9 2.9l-2.9 -2.9zM837.7 439.7l2.9 2.9l-2.9 2.9l-2.9 -2.9zM841.4 416.1l2.9 2.9l-2.9 2.9l-2.9 -2.9zM842.8 420.9l2.9 2.9l-2.9 2.9l-2.9 -2.9zM841.5 424.4l2.9 2.9l-2.9 2.9l-2.9 -2.9zM840.7 427.5l2.9 2.9l-2.9 2.9l-2.9 -2.9zM841.6 429.7l2.9 2.9l-2.9 2.9l-2.9 -2.9zM841.2 433.3l2.9 2.9l-2.9 2.9l-2.9 -2.9zM841.7 439.2l2.9 2.9l-2.9 2.9l-2.9 -2.9zM842.1 443.0l2.9 2.9l-2.9 2.9l-2.9 -2.9zM843.9 417.3l2.9 2.9l-2.9 2.9l-2.9 -2.9zM844.1 420.1l2.9 2.9l-2.9 2.9l-2.9 -2.9zM845.1 423.3l2.9 2.9l-2.9 2.9l-2.9 -2.9zM844.7 426.6l2.9 2.9l-2.9 2.9l-2.9 -2.9zM844.4 430.0l2.9 2.9l-2.9 2.9l-2.9 -2.9zM845.6 433.2l2.9 2.9l-2.9 2.9l-2.9 -2.9zM845.1 437.8l2.9 2.9l-2.9 2.9l-2.9 -2.9zM846.0 440.6l2.9 2.9l-2.9 2.9l-2.9 -2.9zM845.3 443.0l2.9 2.9l-2.9 2.9l-2.9 -2.9zM848.2 416.1l2.9 2.9l-2.9 2.9l-2.9 -2.9zM848.8 418.3l2.9 2.9l-2.9 2.9l-2.9 -2.9zM848.1 422.6l2.9 2.9l-2.9 2.9l-2.9 -2.9zM848.0 425.9l2.9 2.9l-2.9 2.9l-2.9 -2.9zM848.0 429.3l2.9 2.9l-2.9 2.9l-2.9 -2.9zM848.9 433.0l2.9 2.9l-2.9 2.9l-2.9 -2.9zM847.9 434.8l2.9 2.9l-2.9 2.9l-2.9 -2.9zM848.3 439.8l2.9 2.9l-2.9 2.9l-2.9 -2.9zM847.2 441.8l2.9 2.9l-2.9 2.9l-2.9 -2.9zM665.7 399.5l2.9 2.9l-2.9 2.9l-2.9 -2.9zM664.8 404.5l2.9 2.9l-2.9 2.9l-2.9 -2.9zM667.8 409.9l2.9 2.9l-2.9 2.9l-2.9 -2.9zM658.6 417.0l2.9 2.9l-2.9 2.9l-2.9 -2.9zM717.4 418.8l2.9 2.9l-2.9 2.9l-2.9 -2.9zM712.1 423.3l2.9 2.9l-2.9 2.9l-2.9 -2.9zM762.0 405.4l2.9 2.9l-2.9 2.9l-2.9 -2.9zM767.4 412.6l2.9 2.9l-2.9 2.9l-2.9 -2.9zM813.8 398.8l2.9 2.9l-2.9 2.9l-2.9 -2.9zM820.9 398.8l2.9 2.9l-2.9 2.9l-2.9 -2.9zM822.7 405.4l2.9 2.9l-2.9 2.9l-2.9 -2.9zM812.0 408.1l2.9 2.9l-2.9 2.9l-2.9 -2.9zM826.3 410.8l2.9 2.9l-2.9 2.9l-2.9 -2.9zM835.2 408.1l2.9 2.9l-2.9 2.9l-2.9 -2.9zM836.1 414.4l2.9 2.9l-2.9 2.9l-2.9 -2.9zM844.1 417.0l2.9 2.9l-2.9 2.9l-2.9 -2.9zM852.1 414.4l2.9 2.9l-2.9 2.9l-2.9 -2.9zM801.3 414.4l2.9 2.9l-2.9 2.9l-2.9 -2.9zM809.3 413.5l2.9 2.9l-2.9 2.9l-2.9 -2.9zM851.4 426.1l2.9 2.9l-2.9 2.9l-2.9 -2.9zM851.7 430.4l2.9 2.9l-2.9 2.9l-2.9 -2.9zM851.7 433.6l2.9 2.9l-2.9 2.9l-2.9 -2.9zM852.4 437.8l2.9 2.9l-2.9 2.9l-2.9 -2.9zM850.3 440.0l2.9 2.9l-2.9 2.9l-2.9 -2.9zM855.5 418.3l2.9 2.9l-2.9 2.9l-2.9 -2.9zM854.1 421.6l2.9 2.9l-2.9 2.9l-2.9 -2.9zM854.6 425.5l2.9 2.9l-2.9 2.9l-2.9 -2.9zM853.4 428.3l2.9 2.9l-2.9 2.9l-2.9 -2.9zM855.2 432.9l2.9 2.9l-2.9 2.9l-2.9 -2.9zM853.8 434.3l2.9 2.9l-2.9 2.9l-2.9 -2.9zM854.2 438.6l2.9 2.9l-2.9 2.9l-2.9 -2.9zM854.7 441.6l2.9 2.9l-2.9 2.9l-2.9 -2.9zM857.9 422.1l2.9 2.9l-2.9 2.9l-2.9 -2.9zM857.9 426.3l2.9 2.9l-2.9 2.9l-2.9 -2.9zM857.4 429.2l2.9 2.9l-2.9 2.9l-2.9 -2.9zM857.3 433.6l2.9 2.9l-2.9 2.9l-2.9 -2.9zM858.0 436.3l2.9 2.9l-2.9 2.9l-2.9 -2.9zM857.7 440.6l2.9 2.9l-2.9 2.9l-2.9 -2.9zM857.6 443.3l2.9 2.9l-2.9 2.9l-2.9 -2.9zM860.3 424.8l2.9 2.9l-2.9 2.9l-2.9 -2.9zM861.8 427.1l2.9 2.9l-2.9 2.9l-2.9 -2.9zM861.5 429.9l2.9 2.9l-2.9 2.9l-2.9 -2.9zM861.9 432.8l2.9 2.9l-2.9 2.9l-2.9 -2.9zM860.4 436.0l2.9 2.9l-2.9 2.9l-2.9 -2.9zM861.8 441.4l2.9 2.9l-2.9 2.9l-2.9 -2.9zM861.5 443.0l2.9 2.9l-2.9 2.9l-2.9 -2.9zM863.3 431.0l2.9 2.9l-2.9 2.9l-2.9 -2.9zM863.8 433.7l2.9 2.9l-2.9 2.9l-2.9 -2.9zM864.5 435.9l2.9 2.9l-2.9 2.9l-2.9 -2.9zM864.0 440.9l2.9 2.9l-2.9 2.9l-2.9 -2.9zM865.1 444.5l2.9 2.9l-2.9 2.9l-2.9 -2.9zM867.5 416.8l2.9 2.9l-2.9 2.9l-2.9 -2.9zM867.8 420.7l2.9 2.9l-2.9 2.9l-2.9 -2.9zM868.2 424.8l2.9 2.9l-2.9 2.9l-2.9 -2.9zM866.8 429.1l2.9 2.9l-2.9 2.9l-2.9 -2.9zM868.7 432.8l2.9 2.9l-2.9 2.9l-2.9 -2.9zM867.8 434.4l2.9 2.9l-2.9 2.9l-2.9 -2.9zM868.3 438.2l2.9 2.9l-2.9 2.9l-2.9 -2.9zM866.7 441.5l2.9 2.9l-2.9 2.9l-2.9 -2.9zM870.0 422.5l2.9 2.9l-2.9 2.9l-2.9 -2.9zM871.9 427.5l2.9 2.9l-2.9 2.9l-2.9 -2.9zM872.0 428.9l2.9 2.9l-2.9 2.9l-2.9 -2.9zM872.1 432.9l2.9 2.9l-2.9 2.9l-2.9 -2.9zM871.4 435.5l2.9 2.9l-2.9 2.9l-2.9 -2.9zM870.9 439.3l2.9 2.9l-2.9 2.9l-2.9 -2.9zM870.2 443.9l2.9 2.9l-2.9 2.9l-2.9 -2.9zM874.4 418.1l2.9 2.9l-2.9 2.9l-2.9 -2.9zM875.0 421.6l2.9 2.9l-2.9 2.9l-2.9 -2.9zM873.2 424.7l2.9 2.9l-2.9 2.9l-2.9 -2.9zM874.7 427.1l2.9 2.9l-2.9 2.9l-2.9 -2.9zM873.9 431.0l2.9 2.9l-2.9 2.9l-2.9 -2.9zM873.5 433.8l2.9 2.9l-2.9 2.9l-2.9 -2.9zM873.9 438.7l2.9 2.9l-2.9 2.9l-2.9 -2.9zM874.3 440.3l2.9 2.9l-2.9 2.9l-2.9 -2.9zM877.7 423.0l2.9 2.9l-2.9 2.9l-2.9 -2.9zM876.8 427.3l2.9 2.9l-2.9 2.9l-2.9 -2.9zM877.3 429.8l2.9 2.9l-2.9 2.9l-2.9 -2.9zM876.9 432.9l2.9 2.9l-2.9 2.9l-2.9 -2.9zM878.5 437.1l2.9 2.9l-2.9 2.9l-2.9 -2.9zM876.4 441.5l2.9 2.9l-2.9 2.9l-2.9 -2.9zM881.4 421.4l2.9 2.9l-2.9 2.9l-2.9 -2.9zM880.1 424.8l2.9 2.9l-2.9 2.9l-2.9 -2.9zM880.6 428.7l2.9 2.9l-2.9 2.9l-2.9 -2.9zM881.8 431.0l2.9 2.9l-2.9 2.9l-2.9 -2.9zM880.3 435.5l2.9 2.9l-2.9 2.9l-2.9 -2.9zM881.4 437.5l2.9 2.9l-2.9 2.9l-2.9 -2.9zM881.1 443.0l2.9 2.9l-2.9 2.9l-2.9 -2.9zM885.0 420.1l2.9 2.9l-2.9 2.9l-2.9 -2.9zM884.1 424.8l2.9 2.9l-2.9 2.9l-2.9 -2.9zM884.0 430.1l2.9 2.9l-2.9 2.9l-2.9 -2.9zM883.6 434.2l2.9 2.9l-2.9 2.9l-2.9 -2.9zM883.4 436.6l2.9 2.9l-2.9 2.9l-2.9 -2.9zM883.5 439.6l2.9 2.9l-2.9 2.9l-2.9 -2.9zM885.3 444.7l2.9 2.9l-2.9 2.9l-2.9 -2.9zM888.2 424.1l2.9 2.9l-2.9 2.9l-2.9 -2.9zM887.8 425.7l2.9 2.9l-2.9 2.9l-2.9 -2.9zM888.3 430.4l2.9 2.9l-2.9 2.9l-2.9 -2.9zM888.0 432.7l2.9 2.9l-2.9 2.9l-2.9 -2.9zM888.6 436.8l2.9 2.9l-2.9 2.9l-2.9 -2.9zM886.6 440.4l2.9 2.9l-2.9 2.9l-2.9 -2.9zM888.5 443.5l2.9 2.9l-2.9 2.9l-2.9 -2.9zM890.6 424.1l2.9 2.9l-2.9 2.9l-2.9 -2.9zM891.7 426.1l2.9 2.9l-2.9 2.9l-2.9 -2.9zM890.9 431.0l2.9 2.9l-2.9 2.9l-2.9 -2.9zM891.9 433.9l2.9 2.9l-2.9 2.9l-2.9 -2.9zM891.6 435.9l2.9 2.9l-2.9 2.9l-2.9 -2.9zM890.7 439.2l2.9 2.9l-2.9 2.9l-2.9 -2.9zM891.8 443.5l2.9 2.9l-2.9 2.9l-2.9 -2.9zM894.8 423.3l2.9 2.9l-2.9 2.9l-2.9 -2.9zM894.9 425.9l2.9 2.9l-2.9 2.9l-2.9 -2.9zM894.5 430.3l2.9 2.9l-2.9 2.9l-2.9 -2.9zM894.3 433.6l2.9 2.9l-2.9 2.9l-2.9 -2.9zM892.9 436.0l2.9 2.9l-2.9 2.9l-2.9 -2.9zM894.8 442.5l2.9 2.9l-2.9 2.9l-2.9 -2.9zM896.7 422.1l2.9 2.9l-2.9 2.9l-2.9 -2.9zM897.7 425.3l2.9 2.9l-2.9 2.9l-2.9 -2.9zM896.9 429.6l2.9 2.9l-2.9 2.9l-2.9 -2.9zM897.8 433.1l2.9 2.9l-2.9 2.9l-2.9 -2.9zM897.8 434.6l2.9 2.9l-2.9 2.9l-2.9 -2.9zM896.6 438.4l2.9 2.9l-2.9 2.9l-2.9 -2.9zM897.1 441.6l2.9 2.9l-2.9 2.9l-2.9 -2.9zM900.4 423.5l2.9 2.9l-2.9 2.9l-2.9 -2.9zM900.7 428.0l2.9 2.9l-2.9 2.9l-2.9 -2.9zM901.5 429.3l2.9 2.9l-2.9 2.9l-2.9 -2.9zM899.5 432.6l2.9 2.9l-2.9 2.9l-2.9 -2.9zM900.6 437.4l2.9 2.9l-2.9 2.9l-2.9 -2.9zM900.3 439.0l2.9 2.9l-2.9 2.9l-2.9 -2.9zM901.6 443.3l2.9 2.9l-2.9 2.9l-2.9 -2.9zM904.4 420.6l2.9 2.9l-2.9 2.9l-2.9 -2.9zM903.9 426.1l2.9 2.9l-2.9 2.9l-2.9 -2.9zM904.4 428.6l2.9 2.9l-2.9 2.9l-2.9 -2.9zM904.1 432.0l2.9 2.9l-2.9 2.9l-2.9 -2.9zM904.0 434.5l2.9 2.9l-2.9 2.9l-2.9 -2.9zM902.9 439.0l2.9 2.9l-2.9 2.9l-2.9 -2.9zM904.1 441.3l2.9 2.9l-2.9 2.9l-2.9 -2.9zM912.5 413.9l2.9 2.9l-2.9 2.9l-2.9 -2.9zM911.0 419.4l2.9 2.9l-2.9 2.9l-2.9 -2.9zM911.0 421.8l2.9 2.9l-2.9 2.9l-2.9 -2.9zM910.8 424.6l2.9 2.9l-2.9 2.9l-2.9 -2.9zM912.2 427.7l2.9 2.9l-2.9 2.9l-2.9 -2.9zM911.4 431.6l2.9 2.9l-2.9 2.9l-2.9 -2.9zM913.0 435.1l2.9 2.9l-2.9 2.9l-2.9 -2.9zM912.3 437.8l2.9 2.9l-2.9 2.9l-2.9 -2.9zM912.4 441.8l2.9 2.9l-2.9 2.9l-2.9 -2.9zM915.3 407.8l2.9 2.9l-2.9 2.9l-2.9 -2.9zM914.8 412.4l2.9 2.9l-2.9 2.9l-2.9 -2.9zM916.1 415.8l2.9 2.9l-2.9 2.9l-2.9 -2.9zM914.4 419.4l2.9 2.9l-2.9 2.9l-2.9 -2.9zM914.7 422.9l2.9 2.9l-2.9 2.9l-2.9 -2.9zM916.3 425.7l2.9 2.9l-2.9 2.9l-2.9 -2.9zM916.2 429.0l2.9 2.9l-2.9 2.9l-2.9 -2.9zM915.0 432.1l2.9 2.9l-2.9 2.9l-2.9 -2.9zM914.9 436.1l2.9 2.9l-2.9 2.9l-2.9 -2.9zM914.6 439.0l2.9 2.9l-2.9 2.9l-2.9 -2.9zM915.0 443.8l2.9 2.9l-2.9 2.9l-2.9 -2.9zM917.6 415.2l2.9 2.9l-2.9 2.9l-2.9 -2.9zM918.6 418.3l2.9 2.9l-2.9 2.9l-2.9 -2.9zM917.9 420.8l2.9 2.9l-2.9 2.9l-2.9 -2.9zM918.5 424.0l2.9 2.9l-2.9 2.9l-2.9 -2.9zM917.9 428.4l2.9 2.9l-2.9 2.9l-2.9 -2.9zM919.2 431.2l2.9 2.9l-2.9 2.9l-2.9 -2.9zM919.5 433.8l2.9 2.9l-2.9 2.9l-2.9 -2.9zM917.4 437.8l2.9 2.9l-2.9 2.9l-2.9 -2.9zM918.9 440.8l2.9 2.9l-2.9 2.9l-2.9 -2.9zM921.4 410.2l2.9 2.9l-2.9 2.9l-2.9 -2.9zM922.1 415.6l2.9 2.9l-2.9 2.9l-2.9 -2.9zM921.5 419.5l2.9 2.9l-2.9 2.9l-2.9 -2.9zM921.4 421.5l2.9 2.9l-2.9 2.9l-2.9 -2.9zM921.4 424.3l2.9 2.9l-2.9 2.9l-2.9 -2.9zM921.8 428.4l2.9 2.9l-2.9 2.9l-2.9 -2.9zM922.7 430.8l2.9 2.9l-2.9 2.9l-2.9 -2.9zM920.7 434.8l2.9 2.9l-2.9 2.9l-2.9 -2.9zM922.6 438.7l2.9 2.9l-2.9 2.9l-2.9 -2.9zM921.5 441.8l2.9 2.9l-2.9 2.9l-2.9 -2.9zM925.9 412.4l2.9 2.9l-2.9 2.9l-2.9 -2.9zM925.7 416.6l2.9 2.9l-2.9 2.9l-2.9 -2.9zM926.0 420.4l2.9 2.9l-2.9 2.9l-2.9 -2.9zM925.4 424.1l2.9 2.9l-2.9 2.9l-2.9 -2.9zM925.5 426.9l2.9 2.9l-2.9 2.9l-2.9 -2.9zM924.5 428.7l2.9 2.9l-2.9 2.9l-2.9 -2.9zM925.8 432.5l2.9 2.9l-2.9 2.9l-2.9 -2.9zM924.4 435.4l2.9 2.9l-2.9 2.9l-2.9 -2.9zM926.2 440.4l2.9 2.9l-2.9 2.9l-2.9 -2.9zM925.5 441.9l2.9 2.9l-2.9 2.9l-2.9 -2.9zM928.8 427.0l2.9 2.9l-2.9 2.9l-2.9 -2.9zM929.6 430.9l2.9 2.9l-2.9 2.9l-2.9 -2.9zM928.6 434.9l2.9 2.9l-2.9 2.9l-2.9 -2.9zM929.0 437.7l2.9 2.9l-2.9 2.9l-2.9 -2.9zM929.3 440.9l2.9 2.9l-2.9 2.9l-2.9 -2.9zM933.8 422.7l2.9 2.9l-2.9 2.9l-2.9 -2.9zM931.9 425.9l2.9 2.9l-2.9 2.9l-2.9 -2.9zM932.8 430.8l2.9 2.9l-2.9 2.9l-2.9 -2.9zM933.5 435.4l2.9 2.9l-2.9 2.9l-2.9 -2.9zM933.0 438.7l2.9 2.9l-2.9 2.9l-2.9 -2.9zM933.9 443.0l2.9 2.9l-2.9 2.9l-2.9 -2.9zM937.5 423.1l2.9 2.9l-2.9 2.9l-2.9 -2.9zM935.4 427.3l2.9 2.9l-2.9 2.9l-2.9 -2.9zM936.8 430.6l2.9 2.9l-2.9 2.9l-2.9 -2.9zM935.6 433.8l2.9 2.9l-2.9 2.9l-2.9 -2.9zM935.6 437.9l2.9 2.9l-2.9 2.9l-2.9 -2.9zM936.2 439.9l2.9 2.9l-2.9 2.9l-2.9 -2.9zM940.6 428.7l2.9 2.9l-2.9 2.9l-2.9 -2.9zM941.0 432.6l2.9 2.9l-2.9 2.9l-2.9 -2.9zM940.9 435.3l2.9 2.9l-2.9 2.9l-2.9 -2.9zM939.7 436.9l2.9 2.9l-2.9 2.9l-2.9 -2.9zM940.9 441.7l2.9 2.9l-2.9 2.9l-2.9 -2.9zM944.9 429.4l2.9 2.9l-2.9 2.9l-2.9 -2.9zM942.9 432.9l2.9 2.9l-2.9 2.9l-2.9 -2.9zM944.4 436.4l2.9 2.9l-2.9 2.9l-2.9 -2.9zM942.8 439.0l2.9 2.9l-2.9 2.9l-2.9 -2.9zM943.6 444.3l2.9 2.9l-2.9 2.9l-2.9 -2.9zM948.3 426.3l2.9 2.9l-2.9 2.9l-2.9 -2.9zM947.6 433.1l2.9 2.9l-2.9 2.9l-2.9 -2.9zM946.4 438.0l2.9 2.9l-2.9 2.9l-2.9 -2.9zM948.6 441.5l2.9 2.9l-2.9 2.9l-2.9 -2.9zM951.6 426.3l2.9 2.9l-2.9 2.9l-2.9 -2.9zM951.0 435.1l2.9 2.9l-2.9 2.9l-2.9 -2.9zM951.5 441.9l2.9 2.9l-2.9 2.9l-2.9 -2.9zM953.1 423.6l2.9 2.9l-2.9 2.9l-2.9 -2.9zM955.1 427.3l2.9 2.9l-2.9 2.9l-2.9 -2.9zM953.4 430.0l2.9 2.9l-2.9 2.9l-2.9 -2.9zM953.9 433.0l2.9 2.9l-2.9 2.9l-2.9 -2.9zM953.2 436.5l2.9 2.9l-2.9 2.9l-2.9 -2.9zM954.3 440.9l2.9 2.9l-2.9 2.9l-2.9 -2.9zM956.4 429.6l2.9 2.9l-2.9 2.9l-2.9 -2.9zM957.9 433.5l2.9 2.9l-2.9 2.9l-2.9 -2.9zM957.8 436.8l2.9 2.9l-2.9 2.9l-2.9 -2.9zM956.6 440.6l2.9 2.9l-2.9 2.9l-2.9 -2.9zM956.4 442.3l2.9 2.9l-2.9 2.9l-2.9 -2.9zM892.8 386.7l2.9 2.9l-2.9 2.9l-2.9 -2.9zM899.1 401.9l2.9 2.9l-2.9 2.9l-2.9 -2.9zM895.5 412.6l2.9 2.9l-2.9 2.9l-2.9 -2.9zM885.7 414.4l2.9 2.9l-2.9 2.9l-2.9 -2.9zM903.5 416.1l2.9 2.9l-2.9 2.9l-2.9 -2.9zM851.8 414.4l2.9 2.9l-2.9 2.9l-2.9 -2.9zM928.0 395.6l2.9 2.9l-2.9 2.9l-2.9 -2.9zM950.8 418.8l2.9 2.9l-2.9 2.9l-2.9 -2.9zM924.0 410.8l2.9 2.9l-2.9 2.9l-2.9 -2.9zM916.9 414.4l2.9 2.9l-2.9 2.9l-2.9 -2.9zM961.9 429.1l2.9 2.9l-2.9 2.9l-2.9 -2.9zM961.8 430.5l2.9 2.9l-2.9 2.9l-2.9 -2.9zM962.3 435.6l2.9 2.9l-2.9 2.9l-2.9 -2.9zM960.1 437.6l2.9 2.9l-2.9 2.9l-2.9 -2.9zM960.5 441.9l2.9 2.9l-2.9 2.9l-2.9 -2.9zM963.9 427.3l2.9 2.9l-2.9 2.9l-2.9 -2.9zM963.5 435.8l2.9 2.9l-2.9 2.9l-2.9 -2.9zM963.7 438.7l2.9 2.9l-2.9 2.9l-2.9 -2.9zM964.5 440.4l2.9 2.9l-2.9 2.9l-2.9 -2.9zM966.6 428.4l2.9 2.9l-2.9 2.9l-2.9 -2.9zM968.6 430.9l2.9 2.9l-2.9 2.9l-2.9 -2.9zM968.0 434.9l2.9 2.9l-2.9 2.9l-2.9 -2.9zM966.7 437.6l2.9 2.9l-2.9 2.9l-2.9 -2.9zM967.6 439.6l2.9 2.9l-2.9 2.9l-2.9 -2.9zM971.8 422.0l2.9 2.9l-2.9 2.9l-2.9 -2.9zM970.2 427.8l2.9 2.9l-2.9 2.9l-2.9 -2.9zM970.9 429.8l2.9 2.9l-2.9 2.9l-2.9 -2.9zM971.2 433.7l2.9 2.9l-2.9 2.9l-2.9 -2.9zM971.7 438.2l2.9 2.9l-2.9 2.9l-2.9 -2.9zM970.1 440.3l2.9 2.9l-2.9 2.9l-2.9 -2.9zM975.5 429.8l2.9 2.9l-2.9 2.9l-2.9 -2.9zM973.5 436.2l2.9 2.9l-2.9 2.9l-2.9 -2.9zM974.4 438.9l2.9 2.9l-2.9 2.9l-2.9 -2.9zM974.7 442.7l2.9 2.9l-2.9 2.9l-2.9 -2.9zM981.1 418.2l2.9 2.9l-2.9 2.9l-2.9 -2.9zM979.0 421.1l2.9 2.9l-2.9 2.9l-2.9 -2.9zM979.9 424.9l2.9 2.9l-2.9 2.9l-2.9 -2.9zM981.2 427.1l2.9 2.9l-2.9 2.9l-2.9 -2.9zM979.5 430.1l2.9 2.9l-2.9 2.9l-2.9 -2.9zM979.7 432.9l2.9 2.9l-2.9 2.9l-2.9 -2.9zM981.3 437.5l2.9 2.9l-2.9 2.9l-2.9 -2.9zM984.6 418.0l2.9 2.9l-2.9 2.9l-2.9 -2.9zM982.8 420.5l2.9 2.9l-2.9 2.9l-2.9 -2.9zM984.3 428.3l2.9 2.9l-2.9 2.9l-2.9 -2.9zM984.1 431.3l2.9 2.9l-2.9 2.9l-2.9 -2.9zM984.1 434.0l2.9 2.9l-2.9 2.9l-2.9 -2.9zM984.2 436.8l2.9 2.9l-2.9 2.9l-2.9 -2.9zM989.8 415.5l2.9 2.9l-2.9 2.9l-2.9 -2.9zM989.0 419.7l2.9 2.9l-2.9 2.9l-2.9 -2.9zM988.5 423.9l2.9 2.9l-2.9 2.9l-2.9 -2.9zM989.8 425.2l2.9 2.9l-2.9 2.9l-2.9 -2.9zM990.8 414.2l2.9 2.9l-2.9 2.9l-2.9 -2.9zM993.2 417.3l2.9 2.9l-2.9 2.9l-2.9 -2.9zM992.4 421.9l2.9 2.9l-2.9 2.9l-2.9 -2.9zM992.6 424.1l2.9 2.9l-2.9 2.9l-2.9 -2.9zM990.8 428.5l2.9 2.9l-2.9 2.9l-2.9 -2.9zM994.9 415.0l2.9 2.9l-2.9 2.9l-2.9 -2.9zM994.8 418.6l2.9 2.9l-2.9 2.9l-2.9 -2.9zM993.5 420.4l2.9 2.9l-2.9 2.9l-2.9 -2.9zM993.7 427.1l2.9 2.9l-2.9 2.9l-2.9 -2.9zM995.7 431.8l2.9 2.9l-2.9 2.9l-2.9 -2.9zM995.2 433.8l2.9 2.9l-2.9 2.9l-2.9 -2.9zM994.1 437.7l2.9 2.9l-2.9 2.9l-2.9 -2.9zM994.4 441.8l2.9 2.9l-2.9 2.9l-2.9 -2.9zM998.7 413.3l2.9 2.9l-2.9 2.9l-2.9 -2.9zM997.2 418.6l2.9 2.9l-2.9 2.9l-2.9 -2.9zM998.3 420.5l2.9 2.9l-2.9 2.9l-2.9 -2.9zM998.8 426.8l2.9 2.9l-2.9 2.9l-2.9 -2.9zM998.1 431.3l2.9 2.9l-2.9 2.9l-2.9 -2.9zM997.0 433.2l2.9 2.9l-2.9 2.9l-2.9 -2.9zM997.6 437.9l2.9 2.9l-2.9 2.9l-2.9 -2.9zM997.2 439.8l2.9 2.9l-2.9 2.9l-2.9 -2.9zM1000.8 417.9l2.9 2.9l-2.9 2.9l-2.9 -2.9zM1001.9 420.1l2.9 2.9l-2.9 2.9l-2.9 -2.9zM1001.2 423.1l2.9 2.9l-2.9 2.9l-2.9 -2.9zM1001.9 426.8l2.9 2.9l-2.9 2.9l-2.9 -2.9zM1001.8 429.9l2.9 2.9l-2.9 2.9l-2.9 -2.9zM1000.5 433.6l2.9 2.9l-2.9 2.9l-2.9 -2.9zM1001.5 437.1l2.9 2.9l-2.9 2.9l-2.9 -2.9zM1000.1 440.9l2.9 2.9l-2.9 2.9l-2.9 -2.9zM1007.2 409.6l2.9 2.9l-2.9 2.9l-2.9 -2.9zM1007.1 412.0l2.9 2.9l-2.9 2.9l-2.9 -2.9zM1007.3 415.6l2.9 2.9l-2.9 2.9l-2.9 -2.9zM1007.2 418.5l2.9 2.9l-2.9 2.9l-2.9 -2.9zM1008.0 423.9l2.9 2.9l-2.9 2.9l-2.9 -2.9zM1010.9 400.1l2.9 2.9l-2.9 2.9l-2.9 -2.9zM1012.3 406.5l2.9 2.9l-2.9 2.9l-2.9 -2.9zM1010.5 409.7l2.9 2.9l-2.9 2.9l-2.9 -2.9zM1010.8 411.2l2.9 2.9l-2.9 2.9l-2.9 -2.9zM1010.7 414.2l2.9 2.9l-2.9 2.9l-2.9 -2.9zM1012.4 418.5l2.9 2.9l-2.9 2.9l-2.9 -2.9zM1010.4 421.7l2.9 2.9l-2.9 2.9l-2.9 -2.9zM1014.4 403.6l2.9 2.9l-2.9 2.9l-2.9 -2.9zM1014.7 407.0l2.9 2.9l-2.9 2.9l-2.9 -2.9zM1014.8 413.3l2.9 2.9l-2.9 2.9l-2.9 -2.9zM1015.3 417.8l2.9 2.9l-2.9 2.9l-2.9 -2.9zM1014.7 421.2l2.9 2.9l-2.9 2.9l-2.9 -2.9zM1013.9 425.0l2.9 2.9l-2.9 2.9l-2.9 -2.9zM1017.7 407.7l2.9 2.9l-2.9 2.9l-2.9 -2.9zM1017.4 410.3l2.9 2.9l-2.9 2.9l-2.9 -2.9zM1017.0 412.7l2.9 2.9l-2.9 2.9l-2.9 -2.9zM1017.9 415.8l2.9 2.9l-2.9 2.9l-2.9 -2.9zM1018.6 420.2l2.9 2.9l-2.9 2.9l-2.9 -2.9zM1017.8 423.7l2.9 2.9l-2.9 2.9l-2.9 -2.9zM1018.2 427.5l2.9 2.9l-2.9 2.9l-2.9 -2.9zM1018.3 432.0l2.9 2.9l-2.9 2.9l-2.9 -2.9zM1017.6 434.9l2.9 2.9l-2.9 2.9l-2.9 -2.9zM1019.5 437.3l2.9 2.9l-2.9 2.9l-2.9 -2.9zM1019.4 440.3l2.9 2.9l-2.9 2.9l-2.9 -2.9zM1020.4 428.6l2.9 2.9l-2.9 2.9l-2.9 -2.9zM1022.4 431.0l2.9 2.9l-2.9 2.9l-2.9 -2.9zM1021.0 435.4l2.9 2.9l-2.9 2.9l-2.9 -2.9zM1022.1 437.9l2.9 2.9l-2.9 2.9l-2.9 -2.9zM1020.7 443.2l2.9 2.9l-2.9 2.9l-2.9 -2.9zM1024.9 423.2l2.9 2.9l-2.9 2.9l-2.9 -2.9zM1023.8 427.3l2.9 2.9l-2.9 2.9l-2.9 -2.9zM1025.1 431.2l2.9 2.9l-2.9 2.9l-2.9 -2.9zM1025.8 435.0l2.9 2.9l-2.9 2.9l-2.9 -2.9zM1026.0 437.3l2.9 2.9l-2.9 2.9l-2.9 -2.9zM1024.7 440.1l2.9 2.9l-2.9 2.9l-2.9 -2.9zM1027.2 426.9l2.9 2.9l-2.9 2.9l-2.9 -2.9zM1029.3 431.6l2.9 2.9l-2.9 2.9l-2.9 -2.9zM1028.3 434.9l2.9 2.9l-2.9 2.9l-2.9 -2.9zM1028.6 437.4l2.9 2.9l-2.9 2.9l-2.9 -2.9zM1027.6 441.0l2.9 2.9l-2.9 2.9l-2.9 -2.9zM1032.6 428.8l2.9 2.9l-2.9 2.9l-2.9 -2.9zM1032.4 433.0l2.9 2.9l-2.9 2.9l-2.9 -2.9zM1032.0 435.6l2.9 2.9l-2.9 2.9l-2.9 -2.9zM1031.2 439.5l2.9 2.9l-2.9 2.9l-2.9 -2.9zM1030.5 443.3l2.9 2.9l-2.9 2.9l-2.9 -2.9zM1035.5 428.5l2.9 2.9l-2.9 2.9l-2.9 -2.9zM1035.2 433.5l2.9 2.9l-2.9 2.9l-2.9 -2.9zM1034.0 437.4l2.9 2.9l-2.9 2.9l-2.9 -2.9zM1034.2 439.4l2.9 2.9l-2.9 2.9l-2.9 -2.9zM1034.1 442.7l2.9 2.9l-2.9 2.9l-2.9 -2.9zM1036.7 427.0l2.9 2.9l-2.9 2.9l-2.9 -2.9zM1036.8 429.7l2.9 2.9l-2.9 2.9l-2.9 -2.9zM1035.4 433.4l2.9 2.9l-2.9 2.9l-2.9 -2.9zM1035.3 437.0l2.9 2.9l-2.9 2.9l-2.9 -2.9zM1035.1 440.7l2.9 2.9l-2.9 2.9l-2.9 -2.9zM1039.9 427.1l2.9 2.9l-2.9 2.9l-2.9 -2.9zM1038.3 434.3l2.9 2.9l-2.9 2.9l-2.9 -2.9zM1039.1 438.3l2.9 2.9l-2.9 2.9l-2.9 -2.9zM1040.2 440.8l2.9 2.9l-2.9 2.9l-2.9 -2.9zM1042.0 426.8l2.9 2.9l-2.9 2.9l-2.9 -2.9zM1042.1 430.2l2.9 2.9l-2.9 2.9l-2.9 -2.9zM1043.6 433.7l2.9 2.9l-2.9 2.9l-2.9 -2.9zM1042.0 434.9l2.9 2.9l-2.9 2.9l-2.9 -2.9zM1043.3 438.8l2.9 2.9l-2.9 2.9l-2.9 -2.9zM1041.5 441.9l2.9 2.9l-2.9 2.9l-2.9 -2.9zM1045.5 422.6l2.9 2.9l-2.9 2.9l-2.9 -2.9zM1047.2 425.2l2.9 2.9l-2.9 2.9l-2.9 -2.9zM1047.2 432.1l2.9 2.9l-2.9 2.9l-2.9 -2.9zM1046.1 435.8l2.9 2.9l-2.9 2.9l-2.9 -2.9zM1046.0 439.0l2.9 2.9l-2.9 2.9l-2.9 -2.9zM1045.0 442.1l2.9 2.9l-2.9 2.9l-2.9 -2.9zM1042.7 430.3l2.9 2.9l-2.9 2.9l-2.9 -2.9zM1042.9 432.8l2.9 2.9l-2.9 2.9l-2.9 -2.9zM1044.3 436.3l2.9 2.9l-2.9 2.9l-2.9 -2.9zM1042.4 439.9l2.9 2.9l-2.9 2.9l-2.9 -2.9zM1043.8 442.1l2.9 2.9l-2.9 2.9l-2.9 -2.9zM1045.8 435.9l2.9 2.9l-2.9 2.9l-2.9 -2.9zM1047.3 438.0l2.9 2.9l-2.9 2.9l-2.9 -2.9zM1047.0 442.1l2.9 2.9l-2.9 2.9l-2.9 -2.9zM1048.9 430.0l2.9 2.9l-2.9 2.9l-2.9 -2.9zM1049.3 432.8l2.9 2.9l-2.9 2.9l-2.9 -2.9zM1050.4 435.2l2.9 2.9l-2.9 2.9l-2.9 -2.9zM1049.2 439.1l2.9 2.9l-2.9 2.9l-2.9 -2.9zM1050.3 443.2l2.9 2.9l-2.9 2.9l-2.9 -2.9zM1053.6 431.9l2.9 2.9l-2.9 2.9l-2.9 -2.9zM1052.5 436.4l2.9 2.9l-2.9 2.9l-2.9 -2.9zM1053.7 440.2l2.9 2.9l-2.9 2.9l-2.9 -2.9zM1052.7 441.9l2.9 2.9l-2.9 2.9l-2.9 -2.9zM1056.7 428.6l2.9 2.9l-2.9 2.9l-2.9 -2.9zM1055.6 436.2l2.9 2.9l-2.9 2.9l-2.9 -2.9zM1056.4 437.7l2.9 2.9l-2.9 2.9l-2.9 -2.9zM1056.5 441.8l2.9 2.9l-2.9 2.9l-2.9 -2.9zM1061.8 426.9l2.9 2.9l-2.9 2.9l-2.9 -2.9zM1060.8 431.1l2.9 2.9l-2.9 2.9l-2.9 -2.9zM1061.5 433.8l2.9 2.9l-2.9 2.9l-2.9 -2.9zM1061.1 438.3l2.9 2.9l-2.9 2.9l-2.9 -2.9zM1060.8 440.9l2.9 2.9l-2.9 2.9l-2.9 -2.9zM1063.5 429.8l2.9 2.9l-2.9 2.9l-2.9 -2.9zM1063.9 432.1l2.9 2.9l-2.9 2.9l-2.9 -2.9zM1065.4 435.6l2.9 2.9l-2.9 2.9l-2.9 -2.9zM1064.7 439.3l2.9 2.9l-2.9 2.9l-2.9 -2.9zM1065.0 443.7l2.9 2.9l-2.9 2.9l-2.9 -2.9zM1067.5 424.8l2.9 2.9l-2.9 2.9l-2.9 -2.9zM1066.6 427.6l2.9 2.9l-2.9 2.9l-2.9 -2.9zM1066.8 430.5l2.9 2.9l-2.9 2.9l-2.9 -2.9zM1066.9 434.8l2.9 2.9l-2.9 2.9l-2.9 -2.9zM1066.9 437.2l2.9 2.9l-2.9 2.9l-2.9 -2.9zM1067.5 440.9l2.9 2.9l-2.9 2.9l-2.9 -2.9zM1070.9 421.1l2.9 2.9l-2.9 2.9l-2.9 -2.9zM1072.8 425.9l2.9 2.9l-2.9 2.9l-2.9 -2.9zM1072.9 428.5l2.9 2.9l-2.9 2.9l-2.9 -2.9zM1071.7 432.1l2.9 2.9l-2.9 2.9l-2.9 -2.9zM1070.9 434.1l2.9 2.9l-2.9 2.9l-2.9 -2.9zM1070.9 438.9l2.9 2.9l-2.9 2.9l-2.9 -2.9zM1071.2 440.8l2.9 2.9l-2.9 2.9l-2.9 -2.9zM1074.7 425.4l2.9 2.9l-2.9 2.9l-2.9 -2.9zM1074.7 428.7l2.9 2.9l-2.9 2.9l-2.9 -2.9zM1075.9 433.7l2.9 2.9l-2.9 2.9l-2.9 -2.9zM1073.9 436.7l2.9 2.9l-2.9 2.9l-2.9 -2.9zM1076.1 440.5l2.9 2.9l-2.9 2.9l-2.9 -2.9zM1076.0 443.4l2.9 2.9l-2.9 2.9l-2.9 -2.9zM1078.1 421.9l2.9 2.9l-2.9 2.9l-2.9 -2.9zM1079.4 428.5l2.9 2.9l-2.9 2.9l-2.9 -2.9zM1079.3 432.7l2.9 2.9l-2.9 2.9l-2.9 -2.9zM1079.4 436.1l2.9 2.9l-2.9 2.9l-2.9 -2.9zM1079.0 439.3l2.9 2.9l-2.9 2.9l-2.9 -2.9zM1077.8 442.3l2.9 2.9l-2.9 2.9l-2.9 -2.9zM1081.3 426.6l2.9 2.9l-2.9 2.9l-2.9 -2.9zM1082.5 430.0l2.9 2.9l-2.9 2.9l-2.9 -2.9zM1080.8 433.5l2.9 2.9l-2.9 2.9l-2.9 -2.9zM1082.1 436.1l2.9 2.9l-2.9 2.9l-2.9 -2.9zM1082.6 439.2l2.9 2.9l-2.9 2.9l-2.9 -2.9zM1081.3 443.0l2.9 2.9l-2.9 2.9l-2.9 -2.9zM1085.7 418.9l2.9 2.9l-2.9 2.9l-2.9 -2.9zM1085.0 426.9l2.9 2.9l-2.9 2.9l-2.9 -2.9zM1085.1 428.4l2.9 2.9l-2.9 2.9l-2.9 -2.9zM1085.4 432.7l2.9 2.9l-2.9 2.9l-2.9 -2.9zM1086.8 437.1l2.9 2.9l-2.9 2.9l-2.9 -2.9zM1086.4 440.3l2.9 2.9l-2.9 2.9l-2.9 -2.9zM1087.0 443.2l2.9 2.9l-2.9 2.9l-2.9 -2.9zM1088.4 418.1l2.9 2.9l-2.9 2.9l-2.9 -2.9zM1089.4 421.1l2.9 2.9l-2.9 2.9l-2.9 -2.9zM1090.3 424.9l2.9 2.9l-2.9 2.9l-2.9 -2.9zM1089.1 427.4l2.9 2.9l-2.9 2.9l-2.9 -2.9zM1089.9 430.2l2.9 2.9l-2.9 2.9l-2.9 -2.9zM1088.3 434.6l2.9 2.9l-2.9 2.9l-2.9 -2.9zM1089.9 437.5l2.9 2.9l-2.9 2.9l-2.9 -2.9zM1089.4 441.7l2.9 2.9l-2.9 2.9l-2.9 -2.9zM1092.0 420.3l2.9 2.9l-2.9 2.9l-2.9 -2.9zM1092.4 424.1l2.9 2.9l-2.9 2.9l-2.9 -2.9zM1091.2 426.7l2.9 2.9l-2.9 2.9l-2.9 -2.9zM1090.7 429.0l2.9 2.9l-2.9 2.9l-2.9 -2.9zM1094.9 417.9l2.9 2.9l-2.9 2.9l-2.9 -2.9zM1093.9 422.3l2.9 2.9l-2.9 2.9l-2.9 -2.9zM1094.9 425.2l2.9 2.9l-2.9 2.9l-2.9 -2.9zM1095.7 427.9l2.9 2.9l-2.9 2.9l-2.9 -2.9zM1095.6 430.8l2.9 2.9l-2.9 2.9l-2.9 -2.9zM1099.0 424.3l2.9 2.9l-2.9 2.9l-2.9 -2.9zM1098.1 427.7l2.9 2.9l-2.9 2.9l-2.9 -2.9zM1097.2 430.3l2.9 2.9l-2.9 2.9l-2.9 -2.9zM1099.8 424.8l2.9 2.9l-2.9 2.9l-2.9 -2.9zM1100.4 428.6l2.9 2.9l-2.9 2.9l-2.9 -2.9zM1099.2 431.6l2.9 2.9l-2.9 2.9l-2.9 -2.9zM1101.0 434.6l2.9 2.9l-2.9 2.9l-2.9 -2.9zM1100.4 437.8l2.9 2.9l-2.9 2.9l-2.9 -2.9zM1103.9 425.1l2.9 2.9l-2.9 2.9l-2.9 -2.9zM1104.2 428.4l2.9 2.9l-2.9 2.9l-2.9 -2.9zM1104.5 432.2l2.9 2.9l-2.9 2.9l-2.9 -2.9zM1104.7 434.4l2.9 2.9l-2.9 2.9l-2.9 -2.9zM1102.6 438.5l2.9 2.9l-2.9 2.9l-2.9 -2.9zM1106.9 420.0l2.9 2.9l-2.9 2.9l-2.9 -2.9zM1106.6 425.5l2.9 2.9l-2.9 2.9l-2.9 -2.9zM1106.2 427.4l2.9 2.9l-2.9 2.9l-2.9 -2.9zM1107.2 431.0l2.9 2.9l-2.9 2.9l-2.9 -2.9zM1106.3 433.8l2.9 2.9l-2.9 2.9l-2.9 -2.9zM1106.5 438.1l2.9 2.9l-2.9 2.9l-2.9 -2.9zM1115.8 425.4l2.9 2.9l-2.9 2.9l-2.9 -2.9zM1114.6 428.0l2.9 2.9l-2.9 2.9l-2.9 -2.9zM1113.8 431.2l2.9 2.9l-2.9 2.9l-2.9 -2.9zM1115.1 436.4l2.9 2.9l-2.9 2.9l-2.9 -2.9zM1114.3 438.4l2.9 2.9l-2.9 2.9l-2.9 -2.9zM1115.1 441.7l2.9 2.9l-2.9 2.9l-2.9 -2.9zM1116.7 426.1l2.9 2.9l-2.9 2.9l-2.9 -2.9zM1117.6 428.9l2.9 2.9l-2.9 2.9l-2.9 -2.9zM1117.7 431.7l2.9 2.9l-2.9 2.9l-2.9 -2.9zM1118.1 435.6l2.9 2.9l-2.9 2.9l-2.9 -2.9zM1119.0 437.7l2.9 2.9l-2.9 2.9l-2.9 -2.9zM1118.8 442.5l2.9 2.9l-2.9 2.9l-2.9 -2.9zM1122.3 427.0l2.9 2.9l-2.9 2.9l-2.9 -2.9zM1120.5 429.3l2.9 2.9l-2.9 2.9l-2.9 -2.9zM1122.0 432.3l2.9 2.9l-2.9 2.9l-2.9 -2.9zM1121.2 436.8l2.9 2.9l-2.9 2.9l-2.9 -2.9zM1122.2 439.7l2.9 2.9l-2.9 2.9l-2.9 -2.9zM1122.3 443.7l2.9 2.9l-2.9 2.9l-2.9 -2.9zM1124.8 427.2l2.9 2.9l-2.9 2.9l-2.9 -2.9zM1124.2 429.5l2.9 2.9l-2.9 2.9l-2.9 -2.9zM1125.5 433.2l2.9 2.9l-2.9 2.9l-2.9 -2.9zM1124.1 437.2l2.9 2.9l-2.9 2.9l-2.9 -2.9zM1125.0 438.5l2.9 2.9l-2.9 2.9l-2.9 -2.9zM1123.5 443.7l2.9 2.9l-2.9 2.9l-2.9 -2.9zM1128.4 429.1l2.9 2.9l-2.9 2.9l-2.9 -2.9zM1128.9 432.0l2.9 2.9l-2.9 2.9l-2.9 -2.9zM1126.8 436.2l2.9 2.9l-2.9 2.9l-2.9 -2.9zM1127.1 439.1l2.9 2.9l-2.9 2.9l-2.9 -2.9zM1127.6 440.8l2.9 2.9l-2.9 2.9l-2.9 -2.9zM1132.3 426.8l2.9 2.9l-2.9 2.9l-2.9 -2.9zM1130.2 430.1l2.9 2.9l-2.9 2.9l-2.9 -2.9zM1131.4 433.6l2.9 2.9l-2.9 2.9l-2.9 -2.9zM1130.4 438.1l2.9 2.9l-2.9 2.9l-2.9 -2.9zM1132.3 440.8l2.9 2.9l-2.9 2.9l-2.9 -2.9zM1133.8 427.6l2.9 2.9l-2.9 2.9l-2.9 -2.9zM1135.6 432.1l2.9 2.9l-2.9 2.9l-2.9 -2.9zM1133.7 434.1l2.9 2.9l-2.9 2.9l-2.9 -2.9zM1135.0 437.1l2.9 2.9l-2.9 2.9l-2.9 -2.9zM1134.9 440.4l2.9 2.9l-2.9 2.9l-2.9 -2.9zM1137.6 427.3l2.9 2.9l-2.9 2.9l-2.9 -2.9zM1137.3 429.4l2.9 2.9l-2.9 2.9l-2.9 -2.9zM1138.6 433.9l2.9 2.9l-2.9 2.9l-2.9 -2.9zM1136.9 435.5l2.9 2.9l-2.9 2.9l-2.9 -2.9zM1138.2 438.4l2.9 2.9l-2.9 2.9l-2.9 -2.9zM1138.4 442.9l2.9 2.9l-2.9 2.9l-2.9 -2.9zM1141.4 424.9l2.9 2.9l-2.9 2.9l-2.9 -2.9zM1140.8 429.2l2.9 2.9l-2.9 2.9l-2.9 -2.9zM1142.1 431.7l2.9 2.9l-2.9 2.9l-2.9 -2.9zM1140.7 434.1l2.9 2.9l-2.9 2.9l-2.9 -2.9zM1141.7 438.7l2.9 2.9l-2.9 2.9l-2.9 -2.9zM1142.2 441.7l2.9 2.9l-2.9 2.9l-2.9 -2.9zM1144.6 425.1l2.9 2.9l-2.9 2.9l-2.9 -2.9zM1144.3 428.7l2.9 2.9l-2.9 2.9l-2.9 -2.9zM1143.3 433.5l2.9 2.9l-2.9 2.9l-2.9 -2.9zM1143.5 436.4l2.9 2.9l-2.9 2.9l-2.9 -2.9zM1145.3 439.3l2.9 2.9l-2.9 2.9l-2.9 -2.9zM1145.4 441.4l2.9 2.9l-2.9 2.9l-2.9 -2.9zM1147.2 424.2l2.9 2.9l-2.9 2.9l-2.9 -2.9zM1147.5 428.1l2.9 2.9l-2.9 2.9l-2.9 -2.9zM1148.2 431.2l2.9 2.9l-2.9 2.9l-2.9 -2.9zM1147.6 434.7l2.9 2.9l-2.9 2.9l-2.9 -2.9zM1148.0 436.9l2.9 2.9l-2.9 2.9l-2.9 -2.9zM1148.6 441.8l2.9 2.9l-2.9 2.9l-2.9 -2.9zM992.1 403.7l2.9 2.9l-2.9 2.9l-2.9 -2.9zM1001.0 397.9l2.9 2.9l-2.9 2.9l-2.9 -2.9zM1003.7 404.0l2.9 2.9l-2.9 2.9l-2.9 -2.9zM987.7 409.9l2.9 2.9l-2.9 2.9l-2.9 -2.9zM1015.8 380.8l2.9 2.9l-2.9 2.9l-2.9 -2.9zM1011.7 395.6l2.9 2.9l-2.9 2.9l-2.9 -2.9zM1015.3 394.7l2.9 2.9l-2.9 2.9l-2.9 -2.9zM1017.1 400.1l2.9 2.9l-2.9 2.9l-2.9 -2.9zM1010.0 405.4l2.9 2.9l-2.9 2.9l-2.9 -2.9zM1015.3 405.4l2.9 2.9l-2.9 2.9l-2.9 -2.9zM1019.8 408.1l2.9 2.9l-2.9 2.9l-2.9 -2.9zM1013.5 413.5l2.9 2.9l-2.9 2.9l-2.9 -2.9zM1038.5 425.1l2.9 2.9l-2.9 2.9l-2.9 -2.9zM1046.9 423.3l2.9 2.9l-2.9 2.9l-2.9 -2.9zM1037.6 434.0l2.9 2.9l-2.9 2.9l-2.9 -2.9zM1076.9 408.1l2.9 2.9l-2.9 2.9l-2.9 -2.9zM1091.1 408.1l2.9 2.9l-2.9 2.9l-2.9 -2.9zM1088.5 410.8l2.9 2.9l-2.9 2.9l-2.9 -2.9zM1094.7 409.9l2.9 2.9l-2.9 2.9l-2.9 -2.9zM1078.6 415.2l2.9 2.9l-2.9 2.9l-2.9 -2.9zM1087.6 415.2l2.9 2.9l-2.9 2.9l-2.9 -2.9zM1100.9 414.4l2.9 2.9l-2.9 2.9l-2.9 -2.9zM1102.7 416.1l2.9 2.9l-2.9 2.9l-2.9 -2.9zM1103.6 404.5l2.9 2.9l-2.9 2.9l-2.9 -2.9zM1106.3 403.7l2.9 2.9l-2.9 2.9l-2.9 -2.9zM1115.8 404.0l2.9 2.9l-2.9 2.9l-2.9 -2.9zM1115.8 413.1l2.9 2.9l-2.9 2.9l-2.9 -2.9zM1115.8 419.2l2.9 2.9l-2.9 2.9l-2.9 -2.9zM1115.8 425.1l2.9 2.9l-2.9 2.9l-2.9 -2.9zM995.7 443.8l2.9 2.9l-2.9 2.9l-2.9 -2.9zM1001.0 443.8l2.9 2.9l-2.9 2.9l-2.9 -2.9zM1121.5 423.3l2.9 2.9l-2.9 2.9l-2.9 -2.9zM1131.3 424.5l2.9 2.9l-2.9 2.9l-2.9 -2.9zM1148.2 423.3l2.9 2.9l-2.9 2.9l-2.9 -2.9zM1104.2 442.9l2.9 2.9l-2.9 2.9l-2.9 -2.9zM277.2 396.4l2.9 2.9l-2.9 2.9l-2.9 -2.9zM276.9 399.9l2.9 2.9l-2.9 2.9l-2.9 -2.9zM278.1 402.2l2.9 2.9l-2.9 2.9l-2.9 -2.9zM277.6 404.7l2.9 2.9l-2.9 2.9l-2.9 -2.9zM275.9 410.1l2.9 2.9l-2.9 2.9l-2.9 -2.9zM277.6 411.3l2.9 2.9l-2.9 2.9l-2.9 -2.9zM276.7 414.9l2.9 2.9l-2.9 2.9l-2.9 -2.9zM275.9 418.7l2.9 2.9l-2.9 2.9l-2.9 -2.9zM277.8 423.0l2.9 2.9l-2.9 2.9l-2.9 -2.9zM280.2 393.3l2.9 2.9l-2.9 2.9l-2.9 -2.9zM279.9 397.1l2.9 2.9l-2.9 2.9l-2.9 -2.9zM279.4 400.2l2.9 2.9l-2.9 2.9l-2.9 -2.9zM279.6 402.7l2.9 2.9l-2.9 2.9l-2.9 -2.9zM279.5 407.0l2.9 2.9l-2.9 2.9l-2.9 -2.9zM281.0 408.7l2.9 2.9l-2.9 2.9l-2.9 -2.9zM281.3 416.2l2.9 2.9l-2.9 2.9l-2.9 -2.9zM280.6 422.6l2.9 2.9l-2.9 2.9l-2.9 -2.9zM283.2 411.9l2.9 2.9l-2.9 2.9l-2.9 -2.9zM284.1 424.9l2.9 2.9l-2.9 2.9l-2.9 -2.9zM287.9 414.6l2.9 2.9l-2.9 2.9l-2.9 -2.9zM286.7 416.9l2.9 2.9l-2.9 2.9l-2.9 -2.9zM287.5 420.5l2.9 2.9l-2.9 2.9l-2.9 -2.9zM287.6 425.0l2.9 2.9l-2.9 2.9l-2.9 -2.9zM291.7 409.8l2.9 2.9l-2.9 2.9l-2.9 -2.9zM291.0 421.1l2.9 2.9l-2.9 2.9l-2.9 -2.9zM290.9 422.8l2.9 2.9l-2.9 2.9l-2.9 -2.9zM290.1 425.7l2.9 2.9l-2.9 2.9l-2.9 -2.9zM295.2 422.7l2.9 2.9l-2.9 2.9l-2.9 -2.9zM295.0 426.1l2.9 2.9l-2.9 2.9l-2.9 -2.9zM295.7 415.3l2.9 2.9l-2.9 2.9l-2.9 -2.9zM297.3 416.4l2.9 2.9l-2.9 2.9l-2.9 -2.9zM296.3 420.1l2.9 2.9l-2.9 2.9l-2.9 -2.9zM295.3 424.9l2.9 2.9l-2.9 2.9l-2.9 -2.9zM296.7 428.4l2.9 2.9l-2.9 2.9l-2.9 -2.9zM296.7 432.8l2.9 2.9l-2.9 2.9l-2.9 -2.9zM300.6 412.8l2.9 2.9l-2.9 2.9l-2.9 -2.9zM298.3 416.4l2.9 2.9l-2.9 2.9l-2.9 -2.9zM299.7 420.6l2.9 2.9l-2.9 2.9l-2.9 -2.9zM298.8 422.4l2.9 2.9l-2.9 2.9l-2.9 -2.9zM298.6 427.5l2.9 2.9l-2.9 2.9l-2.9 -2.9zM300.4 429.8l2.9 2.9l-2.9 2.9l-2.9 -2.9zM300.6 432.8l2.9 2.9l-2.9 2.9l-2.9 -2.9zM303.6 416.4l2.9 2.9l-2.9 2.9l-2.9 -2.9zM303.4 418.0l2.9 2.9l-2.9 2.9l-2.9 -2.9zM302.5 422.2l2.9 2.9l-2.9 2.9l-2.9 -2.9zM305.0 414.9l2.9 2.9l-2.9 2.9l-2.9 -2.9zM305.5 418.6l2.9 2.9l-2.9 2.9l-2.9 -2.9zM305.0 420.2l2.9 2.9l-2.9 2.9l-2.9 -2.9zM306.0 425.0l2.9 2.9l-2.9 2.9l-2.9 -2.9zM305.8 427.8l2.9 2.9l-2.9 2.9l-2.9 -2.9zM305.6 431.0l2.9 2.9l-2.9 2.9l-2.9 -2.9zM308.9 411.9l2.9 2.9l-2.9 2.9l-2.9 -2.9zM308.5 416.6l2.9 2.9l-2.9 2.9l-2.9 -2.9zM308.1 419.1l2.9 2.9l-2.9 2.9l-2.9 -2.9zM308.7 423.1l2.9 2.9l-2.9 2.9l-2.9 -2.9zM309.5 426.6l2.9 2.9l-2.9 2.9l-2.9 -2.9zM309.1 430.1l2.9 2.9l-2.9 2.9l-2.9 -2.9zM308.4 431.3l2.9 2.9l-2.9 2.9l-2.9 -2.9zM311.4 413.1l2.9 2.9l-2.9 2.9l-2.9 -2.9zM312.0 416.1l2.9 2.9l-2.9 2.9l-2.9 -2.9zM311.8 418.5l2.9 2.9l-2.9 2.9l-2.9 -2.9zM312.0 423.6l2.9 2.9l-2.9 2.9l-2.9 -2.9zM312.2 425.2l2.9 2.9l-2.9 2.9l-2.9 -2.9zM311.5 430.1l2.9 2.9l-2.9 2.9l-2.9 -2.9zM311.6 432.9l2.9 2.9l-2.9 2.9l-2.9 -2.9zM315.3 411.7l2.9 2.9l-2.9 2.9l-2.9 -2.9zM316.2 416.0l2.9 2.9l-2.9 2.9l-2.9 -2.9zM316.1 419.1l2.9 2.9l-2.9 2.9l-2.9 -2.9zM314.7 423.6l2.9 2.9l-2.9 2.9l-2.9 -2.9zM315.1 425.6l2.9 2.9l-2.9 2.9l-2.9 -2.9zM314.7 429.6l2.9 2.9l-2.9 2.9l-2.9 -2.9zM319.4 412.9l2.9 2.9l-2.9 2.9l-2.9 -2.9zM319.5 416.7l2.9 2.9l-2.9 2.9l-2.9 -2.9zM318.0 420.2l2.9 2.9l-2.9 2.9l-2.9 -2.9zM318.1 426.7l2.9 2.9l-2.9 2.9l-2.9 -2.9zM318.3 430.4l2.9 2.9l-2.9 2.9l-2.9 -2.9zM300.5 436.1l2.9 2.9l-2.9 2.9l-2.9 -2.9zM301.0 437.4l2.9 2.9l-2.9 2.9l-2.9 -2.9zM304.8 435.4l2.9 2.9l-2.9 2.9l-2.9 -2.9zM305.5 437.2l2.9 2.9l-2.9 2.9l-2.9 -2.9zM320.5 419.6l2.9 2.9l-2.9 2.9l-2.9 -2.9zM321.6 423.9l2.9 2.9l-2.9 2.9l-2.9 -2.9zM321.9 426.3l2.9 2.9l-2.9 2.9l-2.9 -2.9zM320.9 431.1l2.9 2.9l-2.9 2.9l-2.9 -2.9zM320.2 432.3l2.9 2.9l-2.9 2.9l-2.9 -2.9zM322.3 436.9l2.9 2.9l-2.9 2.9l-2.9 -2.9zM322.3 440.4l2.9 2.9l-2.9 2.9l-2.9 -2.9zM325.1 417.1l2.9 2.9l-2.9 2.9l-2.9 -2.9zM324.4 422.5l2.9 2.9l-2.9 2.9l-2.9 -2.9zM325.7 428.8l2.9 2.9l-2.9 2.9l-2.9 -2.9zM324.9 432.6l2.9 2.9l-2.9 2.9l-2.9 -2.9zM325.8 434.9l2.9 2.9l-2.9 2.9l-2.9 -2.9zM324.8 438.0l2.9 2.9l-2.9 2.9l-2.9 -2.9zM324.4 441.4l2.9 2.9l-2.9 2.9l-2.9 -2.9zM327.5 419.7l2.9 2.9l-2.9 2.9l-2.9 -2.9zM327.8 423.4l2.9 2.9l-2.9 2.9l-2.9 -2.9zM328.1 425.7l2.9 2.9l-2.9 2.9l-2.9 -2.9zM328.5 430.3l2.9 2.9l-2.9 2.9l-2.9 -2.9zM327.4 433.9l2.9 2.9l-2.9 2.9l-2.9 -2.9zM327.7 435.7l2.9 2.9l-2.9 2.9l-2.9 -2.9zM328.5 440.2l2.9 2.9l-2.9 2.9l-2.9 -2.9zM330.6 419.2l2.9 2.9l-2.9 2.9l-2.9 -2.9zM330.9 422.3l2.9 2.9l-2.9 2.9l-2.9 -2.9zM331.9 425.3l2.9 2.9l-2.9 2.9l-2.9 -2.9zM332.0 429.6l2.9 2.9l-2.9 2.9l-2.9 -2.9zM331.6 433.0l2.9 2.9l-2.9 2.9l-2.9 -2.9zM330.3 435.5l2.9 2.9l-2.9 2.9l-2.9 -2.9zM332.4 439.2l2.9 2.9l-2.9 2.9l-2.9 -2.9zM332.8 412.0l2.9 2.9l-2.9 2.9l-2.9 -2.9zM334.1 416.3l2.9 2.9l-2.9 2.9l-2.9 -2.9zM333.1 418.5l2.9 2.9l-2.9 2.9l-2.9 -2.9zM333.9 423.3l2.9 2.9l-2.9 2.9l-2.9 -2.9zM334.3 425.5l2.9 2.9l-2.9 2.9l-2.9 -2.9zM333.0 430.1l2.9 2.9l-2.9 2.9l-2.9 -2.9zM332.6 431.7l2.9 2.9l-2.9 2.9l-2.9 -2.9zM334.3 435.1l2.9 2.9l-2.9 2.9l-2.9 -2.9zM336.6 408.9l2.9 2.9l-2.9 2.9l-2.9 -2.9zM336.4 412.1l2.9 2.9l-2.9 2.9l-2.9 -2.9zM336.6 416.0l2.9 2.9l-2.9 2.9l-2.9 -2.9zM336.1 418.4l2.9 2.9l-2.9 2.9l-2.9 -2.9zM336.4 421.7l2.9 2.9l-2.9 2.9l-2.9 -2.9zM337.4 425.8l2.9 2.9l-2.9 2.9l-2.9 -2.9zM337.0 428.7l2.9 2.9l-2.9 2.9l-2.9 -2.9zM337.1 433.0l2.9 2.9l-2.9 2.9l-2.9 -2.9zM336.0 436.9l2.9 2.9l-2.9 2.9l-2.9 -2.9zM340.2 410.0l2.9 2.9l-2.9 2.9l-2.9 -2.9zM338.9 412.7l2.9 2.9l-2.9 2.9l-2.9 -2.9zM340.3 416.5l2.9 2.9l-2.9 2.9l-2.9 -2.9zM339.3 419.3l2.9 2.9l-2.9 2.9l-2.9 -2.9zM339.7 424.0l2.9 2.9l-2.9 2.9l-2.9 -2.9zM341.2 425.7l2.9 2.9l-2.9 2.9l-2.9 -2.9zM339.4 429.8l2.9 2.9l-2.9 2.9l-2.9 -2.9zM338.9 433.7l2.9 2.9l-2.9 2.9l-2.9 -2.9zM339.5 436.9l2.9 2.9l-2.9 2.9l-2.9 -2.9zM343.0 411.2l2.9 2.9l-2.9 2.9l-2.9 -2.9zM344.0 416.0l2.9 2.9l-2.9 2.9l-2.9 -2.9zM343.1 419.2l2.9 2.9l-2.9 2.9l-2.9 -2.9zM342.8 422.4l2.9 2.9l-2.9 2.9l-2.9 -2.9zM344.5 424.1l2.9 2.9l-2.9 2.9l-2.9 -2.9zM342.6 427.2l2.9 2.9l-2.9 2.9l-2.9 -2.9zM342.3 431.3l2.9 2.9l-2.9 2.9l-2.9 -2.9zM343.3 434.4l2.9 2.9l-2.9 2.9l-2.9 -2.9zM280.0 386.7l2.9 2.9l-2.9 2.9l-2.9 -2.9zM281.8 393.3l2.9 2.9l-2.9 2.9l-2.9 -2.9zM290.2 393.3l2.9 2.9l-2.9 2.9l-2.9 -2.9zM286.0 398.1l2.9 2.9l-2.9 2.9l-2.9 -2.9zM290.2 399.3l2.9 2.9l-2.9 2.9l-2.9 -2.9zM292.6 401.7l2.9 2.9l-2.9 2.9l-2.9 -2.9zM287.8 403.5l2.9 2.9l-2.9 2.9l-2.9 -2.9zM292.6 405.9l2.9 2.9l-2.9 2.9l-2.9 -2.9zM296.8 407.7l2.9 2.9l-2.9 2.9l-2.9 -2.9zM292.0 428.7l2.9 2.9l-2.9 2.9l-2.9 -2.9zM299.2 434.7l2.9 2.9l-2.9 2.9l-2.9 -2.9zM308.8 439.5l2.9 2.9l-2.9 2.9l-2.9 -2.9zM291.4 443.7l2.9 2.9l-2.9 2.9l-2.9 -2.9zM304.6 443.7l2.9 2.9l-2.9 2.9l-2.9 -2.9zM323.8 443.7l2.9 2.9l-2.9 2.9l-2.9 -2.9zM327.4 443.7l2.9 2.9l-2.9 2.9l-2.9 -2.9zM340.0 443.7l2.9 2.9l-2.9 2.9l-2.9 -2.9zM323.8 415.5l2.9 2.9l-2.9 2.9l-2.9 -2.9zM278.2 398.1l2.9 2.9l-2.9 2.9l-2.9 -2.9zM279.4 403.5l2.9 2.9l-2.9 2.9l-2.9 -2.9zM277.0 413.1l2.9 2.9l-2.9 2.9l-2.9 -2.9zM277.6 422.7l2.9 2.9l-2.9 2.9l-2.9 -2.9zM286.6 423.9l2.9 2.9l-2.9 2.9l-2.9 -2.9zM511.1 418.4l2.9 2.9l-2.9 2.9l-2.9 -2.9zM520.3 410.0l2.9 2.9l-2.9 2.9l-2.9 -2.9zM528.8 418.4l2.9 2.9l-2.9 2.9l-2.9 -2.9zM529.5 424.5l2.9 2.9l-2.9 2.9l-2.9 -2.9zM531.8 367.1l2.9 2.9l-2.9 2.9l-2.9 -2.9zM535.7 380.9l2.9 2.9l-2.9 2.9l-2.9 -2.9zM540.2 418.4l2.9 2.9l-2.9 2.9l-2.9 -2.9zM539.9 424.5l2.9 2.9l-2.9 2.9l-2.9 -2.9zM540.6 429.1l2.9 2.9l-2.9 2.9l-2.9 -2.9zM540.2 433.7l2.9 2.9l-2.9 2.9l-2.9 -2.9zM541.0 436.8l2.9 2.9l-2.9 2.9l-2.9 -2.9zM538.7 443.7l2.9 2.9l-2.9 2.9l-2.9 -2.9zM546.4 443.7l2.9 2.9l-2.9 2.9l-2.9 -2.9zM551.0 443.7l2.9 2.9l-2.9 2.9l-2.9 -2.9zM549.4 437.6l2.9 2.9l-2.9 2.9l-2.9 -2.9zM528.0 443.7l2.9 2.9l-2.9 2.9l-2.9 -2.9zM557.1 359.9l2.9 2.9l-2.9 2.9l-2.9 -2.9zM560.9 382.4l2.9 2.9l-2.9 2.9l-2.9 -2.9zM566.3 384.7l2.9 2.9l-2.9 2.9l-2.9 -2.9zM558.6 387.8l2.9 2.9l-2.9 2.9l-2.9 -2.9zM565.5 389.3l2.9 2.9l-2.9 2.9l-2.9 -2.9zM554.8 393.9l2.9 2.9l-2.9 2.9l-2.9 -2.9zM564.0 393.9l2.9 2.9l-2.9 2.9l-2.9 -2.9zM563.2 398.5l2.9 2.9l-2.9 2.9l-2.9 -2.9zM570.9 400.0l2.9 2.9l-2.9 2.9l-2.9 -2.9zM559.4 402.3l2.9 2.9l-2.9 2.9l-2.9 -2.9zM555.6 406.1l2.9 2.9l-2.9 2.9l-2.9 -2.9zM562.5 406.1l2.9 2.9l-2.9 2.9l-2.9 -2.9zM570.9 405.4l2.9 2.9l-2.9 2.9l-2.9 -2.9zM566.3 403.1l2.9 2.9l-2.9 2.9l-2.9 -2.9zM557.9 412.3l2.9 2.9l-2.9 2.9l-2.9 -2.9zM561.7 414.6l2.9 2.9l-2.9 2.9l-2.9 -2.9zM566.3 415.3l2.9 2.9l-2.9 2.9l-2.9 -2.9zM560.2 390.8l2.9 2.9l-2.9 2.9l-2.9 -2.9zM567.1 387.0l2.9 2.9l-2.9 2.9l-2.9 -2.9zM561.7 403.1l2.9 2.9l-2.9 2.9l-2.9 -2.9z" fill="#434348"/>
<text x="585" y="24.9" text-anchor="middle" font-family="'DejaVu Sans', 'Liberation Sans', sans-serif" font-size="19.7" fill="#333333">LONGUEUIL CARBON MONOXIDE</text>
<text x="585" y="47" text-anchor="middle" font-family="'DejaVu Sans', 'Liberation Sans', sans-serif" font-size="11.6" fill="#666666">Click and drag in the plot area to zoom in</text>
<text x="67.4" y="452.5" text-anchor="end" font-family="'DejaVu Sans', 'Liberation Sans', sans-serif" font-size="15" fill="#333333">0</text>
<text x="67.4" y="356.5" text-anchor="end" font-family="'DejaVu Sans', 'Liberation Sans', sans-serif" font-size="15" fill="#333333">5</text>
<text x="67.4" y="260.5" text-anchor="end" font-family="'DejaVu Sans', 'Liberation Sans', sans-serif" font-size="15" fill="#333333">10</text>
<text x="67.4" y="164.5" text-anchor="end" font-family="'DejaVu Sans', 'Liberation Sans', sans-serif" font-size="15" fill="#333333">15</text>
<text x="67.4" y="68.5" text-anchor="end" font-family="'DejaVu Sans', 'Liberation Sans', sans-serif" font-size="15" fill="#333333">20</text>
<text x="0" y="0" transform="translate(33 358.5) rotate(-90)" font-family="'DejaVu Sans', 'Liberation Sans', sans-serif" font-size="19.3" fill="#333333">Measurements (ppm)</text>
<text x="0" y="0" transform="translate(86.3 461) rotate(70)" font-family="'DejaVu Sans', 'Liberation Sans', sans-serif" font-size="15.2" fill="#333333">1982-01-01</text>
<text x="0" y="0" transform="translate(177.2 461) rotate(70)" font-family="'DejaVu Sans', 'Liberation Sans', sans-serif" font-size="15.2" fill="#333333">1983-01-01</text>
<text x="0" y="0" transform="translate(268.2 461) rotate(70)" font-family="'DejaVu Sans', 'Liberation Sans', sans-serif" font-size="15.2" fill="#333333">1984-01-01</text>
<text x="0" y="0" transform="translate(359.4 461) rotate(70)" font-family="'DejaVu Sans', 'Liberation Sans', sans-serif" font-size="15.2" fill="#333333">1985-01-01</text>
<text x="0" y="0" transform="translate(450.3 461) rotate(70)" font-family="'DejaVu Sans', 'Liberation Sans', sans-serif" font-size="15.2" fill="#333333">1986-01-01</text>
<text x="0" y="0" transform="translate(541.2 461) rotate(70)" font-family="'DejaVu Sans', 'Liberation Sans', sans-serif" font-size="15.2" fill="#333333">1987-01-01</text>
<text x="0" y="0" transform="translate(632.2 461) rotate(70)" font-family="'DejaVu Sans', 'Liberation Sans', sans-serif" font-size="15.2" fill="#333333">1988-01-01</text>
<text x="0" y="0" transform="translate(723.4 461) rotate(70)" font-family="'DejaVu Sans', 'Liberation Sans', sans-serif" font-size="15.2" fill="#333333">1989-01-01</text>
<text x="0" y="0" transform="translate(814.3 461) rotate(70)" font-family="'DejaVu Sans', 'Liberation Sans', sans-serif" font-size="15.2" fill="#333333">1990-01-01</text>
<text x="0" y="0" transform="translate(905.3 461) rotate(70)" font-family="'DejaVu Sans', 'Liberation Sans', sans-serif" font-size="15.2" fill="#333333">1991-01-01</text>
<text x="0" y="0" transform="translate(996.2 461) rotate(70)" font-family="'DejaVu Sans', 'Liberation Sans', sans-serif" font-size="15.2" fill="#333333">1992-01-01</text>
<text x="0" y="0" transform="translate(1087.4 461) rotate(70)" font-family="'DejaVu Sans', 'Liberation Sans', sans-serif" font-size="15.2" fill="#333333">1993-01-01</text>
<circle cx="474" cy="572" r="3" fill="#7cb5ec"/>
<text x="488" y="576" textLength="109" lengthAdjust="spacingAndGlyphs" font-family="'DejaVu Sans', 'Liberation Sans', sans-serif" font-size="13" font-weight="normal" stroke="#333333" stroke-width="0.45" fill="#333333">1700 BOURASSA</text>
<path d="M 624 568.5 L 627.5 572 L 624 575.5 L 620.5 572 Z" fill="#434348"/>
<text x="637.5" y="576" textLength="68.5" lengthAdjust="spacingAndGlyphs" font-family="'DejaVu Sans', 'Liberation Sans', sans-serif" font-size="13" font-weight="normal" stroke="#333333" stroke-width="0.45" fill="#333333">BOURASSA</text>
<text x="1160" y="595" text-anchor="end" font-family="'DejaVu Sans', 'Liberation Sans', sans-serif" font-size="9.5" fill="#999999">Highcharts.com</text>
</svg>
</div>
</body></html>
